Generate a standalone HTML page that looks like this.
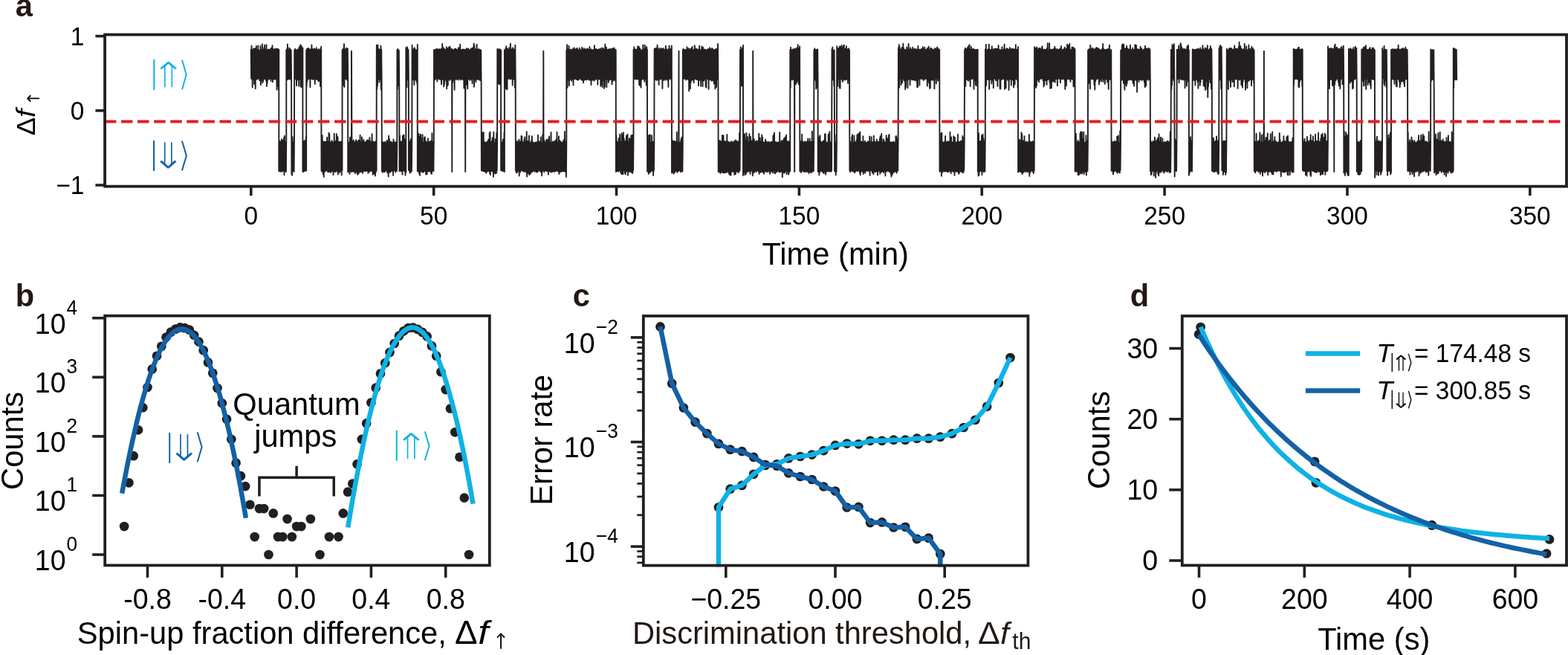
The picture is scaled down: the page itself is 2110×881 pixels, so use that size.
<!DOCTYPE html>
<html><head><meta charset="utf-8"><title>Figure</title>
<style>
html,body{margin:0;padding:0;background:#fff;}
body{width:2110px;height:881px;overflow:hidden;}
svg{display:block;font-family:'Liberation Sans', Arial, sans-serif;}
</style></head><body>
<svg width="2110" height="881" viewBox="0 0 2110 881">
<rect width="2110" height="881" fill="#fff"/>
<path d="M337.7,65.9 338.1,105.8 338.5,61.7 338.9,105.4 339.3,67.5 339.7,117.6 340.1,67.5 340.5,105.7 340.9,65.4 341.3,106.9 341.7,66.8 342.1,113.0 342.5,65.1 342.9,106.3 343.3,65.6 343.7,119.3 344.1,65.0 344.5,105.4 344.9,61.9 345.3,106.5 345.7,66.8 346.1,106.5 346.5,66.7 346.9,105.3 347.3,61.5 347.7,105.5 348.1,67.6 348.5,105.9 348.9,67.6 349.3,108.3 349.7,67.4 350.1,106.2 350.5,61.9 350.9,114.2 351.3,67.4 351.7,106.4 352.1,66.7 352.5,108.1 352.9,59.5 353.3,111.6 353.7,67.5 354.1,109.2 354.5,66.7 354.9,105.8 355.3,64.2 355.7,106.3 356.1,60.6 356.5,106.0 356.9,67.6 357.3,106.2 357.7,66.5 358.1,108.6 358.5,60.3 358.9,116.0 359.3,67.5 359.7,111.6 360.1,67.5 360.5,105.8 360.9,66.5 361.3,106.9 361.7,67.6 362.1,105.6 362.5,66.8 362.9,105.6 363.3,66.7 363.7,106.3 364.1,66.5 364.5,109.0 364.9,64.6 365.3,105.7 365.7,65.7 366.1,105.6 366.5,61.1 366.9,110.2 367.3,65.8 367.7,106.7 368.1,66.5 368.5,106.0 368.9,66.6 369.3,106.4 369.7,65.9 370.1,106.2 370.5,67.2 370.9,105.7 371.3,66.0 371.7,106.9 372.1,66.3 372.5,116.9 372.5,120.7 372.9,65.8 373.3,115.9 373.7,65.7 374.1,107.0 374.5,67.0 374.9,120.2 375.3,66.8 375.3,230.3 375.7,191.7 376.1,229.9 376.5,189.7 376.9,230.5 377.3,191.9 377.7,229.8 378.1,190.9 378.5,230.9 378.9,187.3 379.3,230.4 379.7,191.0 380.1,230.2 380.5,188.8 380.9,229.2 381.3,190.1 381.7,229.6 382.1,184.9 382.5,235.3 382.9,182.7 383.3,229.8 383.7,190.8 384.1,230.6 384.5,191.8 384.9,231.0 385.3,185.1 385.3,67.3 385.7,105.9 386.1,66.0 386.5,107.3 386.9,59.5 387.3,105.4 387.7,66.9 388.1,106.5 388.5,66.9 388.9,106.3 389.3,64.4 389.7,105.9 390.1,65.5 390.5,105.5 390.9,66.7 391.3,107.0 391.7,67.4 392.1,107.6 392.4,234.2 392.8,189.9 393.2,235.7 393.6,184.2 394.0,230.0 394.4,191.7 394.8,229.7 395.2,191.0 395.6,230.9 396.0,183.5 396.2,67.5 396.6,105.6 397.0,65.7 397.4,106.4 397.8,67.2 398.2,106.1 398.6,67.1 399.0,115.3 399.4,67.4 399.8,105.6 400.2,67.4 400.6,107.4 401.0,66.2 401.4,105.5 401.8,67.2 402.2,115.8 402.6,63.2 403.0,106.5 403.4,64.9 403.8,106.0 404.2,60.1 404.6,116.3 405.0,67.5 405.4,117.2 405.8,62.0 406.2,105.3 406.6,66.7 407.0,106.3 407.4,64.4 407.4,230.4 407.8,190.7 408.2,231.2 408.6,190.4 409.0,230.2 409.4,189.4 409.8,229.9 410.2,191.7 410.6,229.8 411.0,188.7 411.4,229.8 411.8,184.4 412.2,229.2 412.2,67.4 412.6,116.3 413.0,65.7 413.4,109.8 413.8,66.4 414.2,106.9 414.6,65.0 415.0,106.1 415.4,65.1 415.8,105.7 416.2,67.4 416.6,105.4 417.0,66.4 417.4,117.3 417.8,66.8 418.2,106.0 418.6,66.2 419.0,105.6 419.4,60.5 419.8,106.0 420.2,65.6 420.6,106.9 421.0,66.6 421.4,105.7 421.8,66.6 422.2,105.8 422.6,65.1 423.0,106.9 423.4,66.2 423.8,113.0 424.2,66.4 424.6,106.6 425.0,67.6 425.4,105.7 425.8,64.3 426.2,106.3 426.6,66.1 427.0,107.3 427.4,67.6 427.8,105.6 428.2,67.6 428.6,109.3 429.0,66.2 429.4,106.2 429.8,67.0 430.2,109.0 430.6,67.5 431.0,116.0 431.4,65.7 431.8,115.8 432.2,62.8 432.5,229.4 432.9,191.9 433.3,230.9 433.7,182.2 434.1,230.1 434.5,190.1 434.9,234.6 435.3,191.8 435.7,237.9 436.1,190.8 436.5,231.8 436.9,190.8 437.3,230.1 437.7,192.0 438.1,229.3 438.5,190.6 438.9,229.6 439.3,191.8 439.7,229.2 440.1,184.7 440.5,229.8 440.9,190.8 441.3,231.2 441.7,191.0 442.1,231.2 442.5,178.8 442.9,229.5 443.3,180.2 443.7,230.8 444.1,191.4 444.5,229.5 444.9,191.2 445.3,232.0 445.7,191.9 446.1,229.5 446.5,189.1 446.9,229.9 447.3,190.6 447.7,230.0 448.1,192.1 448.5,235.2 448.9,191.7 449.3,229.2 449.7,179.6 450.1,230.4 450.5,190.7 450.9,231.3 451.3,191.5 451.7,229.5 452.1,189.2 452.5,230.5 452.9,180.3 453.3,229.9 453.7,186.4 454.1,229.4 454.5,184.1 454.9,234.5 455.3,190.9 455.7,232.0 456.1,190.6 456.5,229.5 456.9,191.1 457.3,231.8 457.7,191.0 458.1,229.9 458.5,191.2 458.9,229.7 459.3,190.5 459.7,235.6 460.1,190.6 460.5,229.1 460.6,67.3 461.0,108.6 461.4,66.1 461.8,106.9 462.2,65.5 462.6,115.0 463.0,59.2 463.4,117.0 463.8,66.8 464.2,105.4 464.6,66.2 465.0,106.1 465.4,66.2 465.8,106.1 466.2,64.6 466.6,106.7 467.0,65.3 467.4,108.0 467.8,65.4 468.2,105.9 468.2,231.5 468.6,190.8 469.0,230.9 469.4,191.7 469.8,229.9 470.2,191.7 470.6,234.1 471.0,184.8 471.4,229.9 471.8,188.1 472.2,229.3 472.6,192.0 473.0,231.3 473.0,68.6 473.4,180.7 473.8,230.1 474.2,189.7 474.6,229.8 475.0,189.8 475.4,231.1 475.8,188.5 476.2,229.5 476.6,191.7 477.0,230.4 477.4,191.5 477.8,233.3 478.2,190.6 478.6,229.2 479.0,188.3 479.4,230.9 479.8,192.0 480.2,231.9 480.6,191.1 481.0,234.7 481.4,189.6 481.8,229.1 482.2,191.2 482.6,233.5 483.0,188.8 483.4,229.7 483.8,191.4 484.2,231.4 484.6,181.7 485.0,230.5 485.4,190.7 485.8,231.3 486.2,191.1 486.6,229.6 487.0,184.4 487.4,230.7 487.8,189.6 488.2,232.9 488.6,191.9 489.0,230.1 489.4,187.9 489.8,229.3 490.2,191.3 490.6,229.8 491.0,191.8 491.4,230.3 491.8,192.1 492.2,230.0 492.6,190.5 493.0,229.7 493.4,189.2 493.8,229.6 494.2,192.0 494.6,229.9 495.0,188.2 495.4,232.8 495.8,189.4 496.2,230.5 496.6,190.7 497.0,231.0 497.4,185.0 497.8,230.3 498.2,189.7 498.6,229.3 499.0,190.9 499.4,229.2 499.8,191.1 500.2,229.9 500.6,180.2 501.0,230.8 501.4,190.9 501.8,234.7 502.2,190.5 502.6,229.2 503.0,191.1 503.4,233.8 503.8,192.1 504.2,230.9 504.6,191.0 505.0,236.5 505.4,190.2 505.8,231.3 506.2,191.2 506.6,229.5 506.8,60.9 507.2,119.8 507.6,67.5 508.0,115.5 508.4,60.4 508.8,105.5 509.2,67.0 509.6,106.3 510.0,66.3 510.4,110.6 510.8,66.9 511.2,105.5 511.6,66.9 512.0,106.8 512.4,61.6 512.8,120.6 513.2,66.4 513.6,106.2 513.9,229.9 514.3,190.0 514.7,231.7 515.1,192.1 515.5,230.7 515.9,191.5 516.3,230.5 516.7,192.0 517.1,231.2 517.5,191.4 517.9,231.0 518.3,190.8 518.7,229.7 519.1,191.9 519.5,229.4 519.9,191.9 520.3,229.1 520.7,188.6 521.1,232.2 521.5,190.3 521.9,231.3 522.3,191.0 522.7,237.6 523.1,182.7 523.5,229.1 523.9,186.6 524.3,231.8 524.7,191.0 525.1,231.4 525.5,190.7 525.9,229.6 526.3,190.6 526.7,230.0 527.1,192.0 527.5,229.8 527.9,191.6 528.3,229.9 528.7,192.0 529.1,235.9 529.5,187.5 529.9,229.2 530.3,191.0 530.7,229.2 531.1,191.5 531.5,229.6 531.9,192.0 532.3,231.7 532.7,191.3 533.1,229.4 533.5,190.9 533.9,229.9 534.3,191.6 534.4,67.1 534.8,120.1 535.2,66.0 535.4,68.6 535.6,115.0 536.0,67.4 536.4,111.4 536.8,67.6 537.2,106.4 537.5,230.2 537.9,182.1 538.3,229.1 538.7,190.8 539.1,229.8 539.5,190.6 539.9,230.4 540.3,190.1 540.7,230.3 541.1,190.4 541.5,234.8 541.9,183.0 542.3,229.4 542.7,182.1 543.1,229.4 543.5,181.4 543.9,229.5 544.3,187.0 544.7,230.7 545.1,192.0 545.5,235.7 545.9,189.7 546.3,231.5 546.3,64.1 546.7,106.5 547.1,67.3 547.5,117.3 547.9,63.2 548.3,106.5 548.7,65.8 549.1,106.7 549.5,67.1 549.9,105.7 549.9,229.1 550.3,191.4 550.7,229.1 551.1,191.2 551.5,232.7 551.9,189.8 552.3,230.5 552.7,187.3 553.1,231.3 553.5,192.1 553.9,230.6 554.3,190.1 554.6,60.8 555.0,105.6 555.4,67.2 555.8,106.5 556.2,66.2 556.6,107.4 557.0,66.0 557.4,114.0 557.8,64.1 558.2,105.7 558.6,66.1 559.0,107.4 559.4,67.5 559.8,105.7 560.2,67.3 560.6,110.1 561.0,67.4 561.4,113.3 561.8,60.0 561.8,230.6 562.2,190.3 562.6,230.3 563.0,179.5 563.4,230.2 563.8,183.6 564.2,233.7 564.6,186.4 565.0,235.9 565.4,180.8 565.8,229.5 566.2,181.1 566.6,230.2 567.0,186.2 567.4,230.8 567.8,191.4 568.2,231.4 568.6,181.3 569.0,229.9 569.4,191.7 569.8,231.8 570.2,191.4 570.6,230.3 571.0,185.1 571.4,229.8 571.8,184.2 572.2,229.9 572.6,189.4 573.0,234.4 573.4,191.0 573.8,234.5 574.2,191.5 574.6,234.4 575.0,191.6 575.4,230.3 575.8,186.1 576.2,230.5 576.6,191.0 577.0,229.7 577.4,190.7 577.8,230.3 578.2,190.8 578.6,230.4 579.0,190.8 579.4,229.5 579.8,189.6 580.2,233.4 580.6,192.0 581.0,233.7 581.4,179.2 581.8,229.1 582.2,192.1 582.6,229.2 583.0,190.6 583.4,230.3 583.8,190.9 584.0,67.0 584.4,106.4 584.8,67.2 585.2,107.4 585.6,67.3 586.0,106.1 586.4,66.4 586.8,105.8 587.2,66.6 587.6,105.5 588.0,65.5 588.4,109.6 588.8,67.4 589.2,106.0 589.6,66.8 590.0,105.4 590.4,66.6 590.8,105.7 591.2,65.9 591.6,106.7 592.0,67.1 592.4,106.4 592.8,66.8 593.2,106.9 593.6,65.7 594.0,113.4 594.4,66.1 594.8,106.2 595.2,59.0 595.6,106.7 596.0,66.7 596.4,106.4 596.8,64.3 597.2,116.6 597.6,66.9 598.0,113.6 598.4,66.3 598.8,105.5 599.2,67.0 599.6,106.3 600.0,67.3 600.4,109.2 600.8,63.2 601.2,119.2 601.6,64.7 602.0,115.5 602.4,66.4 602.8,114.4 603.2,65.5 603.6,106.1 604.0,63.5 604.4,105.8 604.8,66.8 605.2,108.0 605.6,62.8 606.0,106.6 606.4,66.8 606.8,106.1 607.2,66.1 607.6,105.4 608.0,65.8 608.3,231.0 608.4,111.6 608.8,67.6 609.2,110.7 609.6,67.4 610.0,105.4 610.4,67.0 610.8,107.5 611.2,66.5 611.6,120.8 612.0,65.8 612.4,106.6 612.8,65.8 613.2,105.6 613.6,66.2 614.0,106.8 614.4,66.8 614.8,106.3 615.2,67.4 615.6,105.9 616.0,67.1 616.4,107.6 616.8,64.2 617.2,105.9 617.6,66.0 618.0,105.4 618.4,64.3 618.8,106.1 619.2,59.7 619.6,107.4 620.0,66.7 620.4,105.5 620.8,67.1 621.2,106.3 621.6,67.2 622.0,106.1 622.4,66.4 622.8,106.9 623.2,67.2 623.6,107.2 624.0,66.5 624.4,118.5 624.8,67.1 625.2,106.7 625.6,66.9 626.0,106.0 626.2,231.0 626.4,67.3 626.8,105.3 627.2,66.1 627.6,113.7 628.0,65.3 628.4,105.4 628.8,66.2 629.2,119.3 629.6,66.6 630.0,105.4 630.4,65.2 630.8,106.3 631.2,67.1 631.6,105.3 632.0,67.6 632.4,107.9 632.8,67.0 633.2,106.0 633.6,66.0 634.0,106.1 634.4,67.5 634.8,107.8 635.2,64.7 635.6,112.3 636.0,67.3 636.4,105.5 636.8,63.9 637.2,105.9 637.6,58.5 638.0,116.7 638.4,61.0 638.8,106.9 639.2,66.4 639.6,105.4 640.0,67.3 640.4,110.3 640.8,65.4 641.2,106.8 641.6,59.6 642.0,106.2 642.4,67.5 642.8,106.6 643.2,66.4 643.6,106.9 644.0,66.3 644.4,106.2 644.8,66.4 645.2,107.1 645.6,67.0 646.0,108.1 646.4,67.0 646.8,106.7 647.2,67.6 647.6,114.0 647.9,229.4 648.3,180.5 648.7,229.6 649.1,178.5 649.5,229.1 649.9,190.7 650.3,230.2 650.7,177.9 651.1,230.2 651.5,191.5 651.9,229.7 652.3,191.1 652.7,231.0 653.1,191.9 653.5,230.3 653.9,191.9 654.3,232.8 654.7,191.5 655.1,230.0 655.5,190.4 655.9,230.5 656.3,191.6 656.7,229.9 657.1,188.0 657.5,229.9 657.9,187.5 658.3,230.2 658.7,178.9 659.1,233.2 659.5,177.5 659.9,235.0 660.3,191.2 660.7,229.7 661.1,192.0 661.5,229.8 661.9,189.5 662.3,230.2 662.7,185.4 663.1,230.0 663.5,191.9 663.9,237.8 664.3,177.8 664.7,230.5 665.1,192.0 665.5,232.4 665.9,191.9 666.3,233.5 666.7,187.1 667.1,230.2 667.5,188.7 667.9,233.0 668.3,178.8 668.7,229.8 669.1,190.8 669.3,65.9 669.7,105.9 670.1,66.7 670.5,112.2 670.9,66.2 671.3,106.0 671.7,67.2 672.1,113.6 672.5,66.3 672.9,111.9 673.3,67.0 673.7,106.8 674.1,67.5 674.1,229.1 674.5,190.3 674.9,229.1 675.3,191.1 675.7,229.8 676.1,191.2 676.5,229.7 676.9,187.5 677.3,229.5 677.7,191.8 678.1,230.5 678.5,177.9 678.9,231.1 678.9,67.1 679.3,106.4 679.7,67.3 680.1,115.0 680.5,64.6 680.9,119.6 681.3,62.2 681.7,107.2 682.1,65.9 682.5,120.2 682.9,65.5 683.3,106.2 683.7,67.0 684.1,105.6 684.5,67.0 684.9,105.6 685.3,64.1 685.7,105.5 686.1,64.7 686.5,106.5 686.9,58.8 687.3,105.9 687.7,66.2 688.1,105.6 688.5,66.2 688.9,106.0 689.3,67.5 689.7,114.8 690.1,64.2 690.5,106.5 690.9,66.3 691.3,105.5 691.7,66.5 692.1,106.8 692.5,66.6 692.9,117.9 693.3,60.7 693.7,105.8 693.9,229.4 694.3,190.7 694.7,232.1 695.1,191.7 695.5,232.2 695.9,189.9 696.3,231.2 696.7,191.7 697.1,229.5 697.5,191.5 697.9,229.3 698.3,187.6 698.7,236.5 699.1,191.8 699.5,231.6 699.9,190.3 700.3,231.2 700.7,191.5 701.1,229.2 701.5,182.9 701.9,229.1 702.3,183.4 702.7,229.2 703.1,191.0 703.5,229.6 703.9,191.6 704.3,230.4 704.7,191.1 705.1,230.7 705.5,187.3 705.9,230.3 706.3,184.5 706.7,230.6 707.1,190.5 707.5,230.2 707.9,191.7 708.3,231.6 708.7,177.3 709.1,237.5 709.5,191.1 709.9,229.4 710.3,190.0 710.7,232.7 711.1,190.5 711.5,233.6 711.9,182.4 712.3,235.3 712.7,190.9 713.1,229.6 713.5,192.1 713.9,233.6 714.3,191.9 714.7,230.0 715.1,189.0 715.5,231.5 715.9,183.3 716.3,230.9 716.7,191.0 717.1,229.6 717.5,191.9 717.9,229.7 718.3,192.1 718.7,229.4 719.1,192.1 719.5,230.9 719.9,192.0 720.3,229.6 720.7,192.2 721.1,229.8 721.5,190.9 721.9,231.5 722.3,192.0 722.7,230.3 723.1,192.0 723.5,231.2 723.9,181.8 724.3,229.3 724.7,191.0 725.1,229.2 725.5,190.5 725.9,229.5 726.3,191.3 726.7,229.4 727.1,190.1 727.5,231.2 727.9,184.4 728.3,230.4 728.7,192.1 729.1,236.2 729.5,192.1 729.9,230.4 730.3,181.1 730.7,229.1 731.1,182.8 731.3,68.6 731.5,229.4 731.9,187.8 732.3,231.6 732.7,189.7 733.1,229.8 733.5,191.9 733.9,229.3 734.3,191.5 734.7,229.6 735.1,188.8 735.5,229.9 735.9,187.6 736.3,229.3 736.7,188.8 737.1,230.8 737.5,191.9 737.9,234.8 738.3,186.2 738.7,229.3 739.1,183.4 739.5,230.1 739.9,191.7 740.3,230.9 740.7,191.7 741.1,230.3 741.5,178.0 741.9,231.5 742.3,191.9 742.7,229.1 743.1,191.9 743.5,231.1 743.9,190.5 744.3,229.2 744.7,191.8 745.1,230.1 745.5,191.0 745.9,230.9 746.3,189.9 746.7,230.6 747.1,191.8 747.5,229.4 747.9,188.9 748.3,229.9 748.7,187.1 749.1,229.2 749.5,177.8 749.9,229.2 750.3,191.6 750.7,230.6 751.1,191.6 751.5,229.1 751.9,183.4 752.3,234.1 752.7,191.0 753.1,231.4 753.5,189.3 753.9,231.2 754.3,190.9 754.7,229.4 755.1,191.2 755.5,230.7 755.9,191.4 756.3,230.2 756.7,192.1 757.1,229.6 757.5,191.4 757.9,230.3 758.3,188.5 758.7,229.7 759.1,190.1 759.5,230.2 759.9,176.9 760.3,230.7 760.7,191.9 761.1,231.4 761.5,190.2 761.9,237.9 762.3,191.4 762.3,67.3 762.7,106.1 763.1,60.3 763.5,117.9 763.9,67.4 764.3,107.8 764.7,65.8 765.1,106.0 765.5,61.7 765.9,115.2 766.3,67.3 766.7,107.4 767.1,67.5 767.5,106.2 767.9,66.5 768.3,105.8 768.7,66.8 769.1,108.7 769.5,67.4 769.9,106.6 770.3,67.3 770.7,105.3 771.1,65.4 771.5,114.5 771.9,66.3 772.3,106.6 772.7,64.3 773.1,105.9 773.5,66.8 773.9,105.9 774.3,66.6 774.7,106.3 775.1,65.7 775.5,106.0 775.9,67.6 776.3,107.1 776.7,64.8 777.1,107.5 777.5,67.3 777.9,107.5 778.3,67.4 778.7,107.3 779.1,67.0 779.5,105.6 779.9,64.7 780.3,105.6 780.7,67.0 781.1,105.6 781.5,67.6 781.9,106.7 782.3,67.3 782.7,107.8 783.1,64.0 783.5,105.4 783.9,64.9 784.3,107.5 784.7,66.6 785.1,111.3 785.5,67.1 785.9,108.1 786.3,65.3 786.7,107.1 787.1,67.2 787.5,106.8 787.9,66.5 788.3,105.7 788.7,66.8 789.1,107.6 789.5,66.5 789.9,106.4 790.3,65.2 790.7,105.7 791.1,67.6 791.5,106.5 791.9,66.5 792.3,107.0 792.7,67.3 793.1,107.7 793.5,62.9 793.9,107.2 794.3,67.5 794.7,107.2 795.1,66.7 795.5,114.2 795.9,66.5 796.3,107.7 796.7,67.1 797.1,107.6 797.5,67.6 797.9,107.5 798.3,66.9 798.7,105.4 799.1,67.1 799.5,108.7 799.9,61.3 800.3,105.6 800.7,67.0 801.1,106.3 801.5,66.5 801.9,106.8 802.3,65.8 802.7,105.4 803.1,67.6 803.5,105.9 803.9,66.7 804.3,113.8 804.7,67.3 805.1,105.4 805.5,66.9 805.9,106.3 806.3,66.1 806.7,106.2 807.1,67.6 807.5,106.4 807.9,65.1 808.3,116.1 808.7,67.2 809.1,114.0 809.5,67.0 809.9,106.7 810.3,64.4 810.7,117.2 811.1,65.5 811.5,108.2 811.9,65.2 812.3,106.4 812.7,67.0 813.1,119.0 813.5,66.9 813.9,116.5 814.3,59.5 814.7,105.9 815.1,64.0 815.5,105.6 815.9,63.8 816.3,117.2 816.7,67.1 817.1,106.3 817.5,66.9 817.9,106.7 818.3,66.8 818.7,111.1 819.1,66.4 819.5,108.4 819.9,66.7 820.3,106.6 820.7,65.9 821.1,106.8 821.5,67.1 821.9,106.9 822.3,66.1 822.7,105.4 823.1,66.9 823.5,113.5 823.9,65.2 824.3,109.7 824.7,65.8 825.1,107.3 825.5,67.6 825.9,106.9 826.3,64.5 826.7,108.3 827.1,66.7 827.5,105.8 827.9,66.4 828.3,105.4 828.7,67.1 828.9,231.0 829.3,182.1 829.7,230.3 830.1,190.0 830.5,230.0 830.9,191.5 831.3,230.4 831.7,191.9 832.1,230.6 832.5,186.2 832.9,230.0 833.3,192.1 833.7,229.6 834.1,181.0 834.5,229.5 834.9,191.3 835.3,232.3 835.7,190.1 836.1,233.6 836.5,179.1 836.9,234.2 837.3,181.2 837.7,231.2 838.1,191.7 838.5,234.0 838.9,178.2 839.3,229.3 839.7,186.2 840.1,229.4 840.5,191.0 840.9,232.8 841.3,190.5 841.7,234.5 842.1,189.0 842.5,230.2 842.9,182.4 843.3,230.0 843.7,191.5 844.1,230.6 844.5,180.7 844.9,235.7 845.3,191.3 845.7,229.2 846.1,190.5 846.5,230.6 846.9,186.2 847.3,231.1 847.7,189.1 848.1,230.0 848.5,186.8 848.9,230.9 849.3,182.4 849.7,231.7 850.1,182.2 850.5,229.4 850.9,181.8 851.3,233.1 851.7,189.3 852.1,229.2 852.5,182.7 852.5,66.8 852.9,106.8 853.3,63.3 853.7,105.9 854.1,65.4 854.5,106.1 854.9,67.2 855.3,105.4 855.7,67.0 856.1,106.2 856.5,66.6 856.9,106.8 857.3,66.5 857.7,106.4 858.1,62.5 858.5,106.0 858.9,62.6 859.3,105.5 859.7,62.7 860.1,114.0 860.5,64.4 860.9,114.8 861.3,65.1 861.7,111.0 862.1,67.6 862.5,117.8 862.9,67.5 863.3,107.5 863.7,67.4 864.1,106.4 864.5,67.1 864.9,105.4 865.3,60.4 865.7,106.2 866.1,66.2 866.5,106.1 866.9,67.2 867.3,109.7 867.7,60.6 868.1,106.3 868.5,65.7 868.9,105.8 869.3,64.8 869.7,114.3 870.1,62.9 870.5,115.8 870.9,66.5 871.1,230.4 871.5,191.0 871.9,230.7 872.3,188.8 872.7,234.0 873.1,182.0 873.5,232.5 873.9,192.1 874.3,230.8 874.7,181.1 875.1,231.6 875.5,192.1 875.9,230.5 876.3,192.0 876.7,229.5 877.1,182.2 877.5,229.5 877.9,191.5 878.3,229.2 878.7,190.7 879.1,236.1 879.5,191.6 879.9,229.6 880.3,191.6 880.6,65.7 881.0,106.1 881.4,67.3 881.8,105.6 882.2,64.9 882.6,107.2 883.0,64.7 883.4,107.9 883.8,66.4 884.2,106.3 884.6,60.6 885.0,107.3 885.4,66.7 885.8,106.1 886.2,67.5 886.6,114.0 887.0,65.0 887.4,106.2 887.8,67.3 888.2,106.1 888.6,66.9 889.0,106.6 889.4,64.9 889.8,105.5 890.2,65.6 890.6,105.4 891.0,65.9 891.4,119.0 891.8,66.1 892.2,106.4 892.6,65.0 893.0,107.9 893.4,66.6 893.8,106.3 894.2,66.9 894.6,106.4 895.0,66.4 895.4,107.7 895.8,61.8 896.2,106.5 896.6,65.3 897.0,106.6 897.4,67.2 897.8,105.7 898.2,67.2 898.6,108.2 899.0,67.3 899.4,117.1 899.8,65.7 900.2,105.7 900.6,61.6 901.0,106.0 901.4,66.1 901.8,105.5 902.2,66.2 902.6,105.6 903.0,65.6 903.4,107.8 903.8,61.5 904.0,232.4 904.4,191.5 904.8,229.5 905.2,189.4 905.6,231.2 906.0,189.8 906.4,233.7 906.8,190.7 907.2,229.9 907.6,189.9 908.0,232.0 908.4,191.4 908.8,229.3 909.2,190.7 909.6,229.6 910.0,192.0 910.4,230.3 910.8,177.8 911.2,231.7 911.6,192.0 912.0,230.9 912.4,191.2 912.8,229.2 913.2,187.9 913.5,68.6 913.6,229.7 914.0,192.1 914.4,229.1 914.8,191.6 915.2,229.6 915.6,191.2 916.0,231.2 916.4,187.6 916.8,229.7 917.2,184.9 917.6,229.9 918.0,190.9 918.4,230.9 918.8,190.7 918.8,67.2 919.2,106.2 919.6,65.6 920.0,105.6 920.4,67.3 920.8,105.9 921.2,67.5 921.6,105.5 922.0,67.3 922.4,105.6 922.8,66.9 923.2,107.6 923.6,67.0 924.0,105.6 924.4,63.3 924.8,106.3 925.2,65.4 925.6,106.6 926.0,67.2 926.4,105.5 926.8,65.1 927.2,122.4 927.6,66.8 928.0,105.6 928.4,67.0 928.8,119.2 929.2,65.8 929.6,110.9 930.0,67.6 930.4,107.1 930.8,64.5 931.2,107.8 931.6,62.9 932.0,106.7 932.4,67.2 932.8,107.4 933.2,67.4 933.6,111.3 934.0,66.9 934.4,105.6 934.8,61.1 935.2,106.3 935.6,64.9 936.0,105.7 936.4,65.9 936.8,105.3 937.2,66.0 937.6,107.1 938.0,66.2 938.4,107.1 938.8,67.3 939.2,105.6 939.6,67.3 940.0,115.3 940.4,65.9 940.8,106.1 941.2,61.8 941.6,107.6 942.0,67.5 942.4,106.3 942.8,67.6 943.2,115.9 943.6,66.5 944.0,108.4 944.4,62.5 944.8,105.7 945.2,67.1 945.6,116.3 946.0,63.6 946.4,106.7 946.8,66.8 947.2,108.3 947.6,66.4 948.0,105.5 948.4,66.6 948.8,106.3 949.2,66.8 949.6,116.6 950.0,67.6 950.4,117.7 950.8,67.4 951.2,105.4 951.6,67.0 952.0,105.6 952.4,66.1 952.8,106.4 953.2,67.6 953.6,119.9 954.0,65.8 954.4,105.8 954.8,64.1 955.2,106.8 955.6,65.3 956.0,107.3 956.4,66.6 956.8,105.8 957.2,67.5 957.6,108.7 958.0,65.0 958.4,106.4 958.8,65.8 959.2,108.1 959.6,66.4 960.0,106.2 960.4,67.4 960.8,112.4 961.2,67.4 961.6,105.5 962.0,66.7 962.4,119.5 962.8,66.5 963.2,105.5 963.6,65.7 964.0,117.2 964.4,66.7 964.8,106.3 965.2,66.0 965.6,106.9 966.0,59.0 966.4,107.1 966.7,231.2 967.1,189.5 967.5,229.1 967.9,189.9 968.3,230.6 968.7,189.3 969.1,232.7 969.5,189.6 969.9,232.6 970.3,192.0 970.7,229.7 971.1,190.8 971.5,230.4 971.9,182.0 972.3,232.3 972.7,191.0 973.1,229.2 973.5,182.3 973.9,232.3 974.3,191.6 974.7,231.6 975.1,189.9 975.5,232.4 975.9,192.2 976.3,231.7 976.7,191.2 977.1,230.6 977.5,189.7 977.9,231.8 978.3,180.9 978.7,229.2 979.1,191.9 979.5,230.2 979.9,190.6 980.3,231.7 980.7,191.2 981.1,234.1 981.5,191.6 981.9,234.7 982.3,192.1 982.7,235.4 983.1,191.5 983.5,235.8 983.9,190.5 984.3,229.5 984.7,190.5 985.1,230.6 985.5,191.9 985.9,230.9 986.3,192.0 986.7,230.2 987.1,190.5 987.5,230.4 987.9,192.1 988.3,235.0 988.7,190.3 989.1,229.6 989.5,188.5 989.9,234.0 990.3,191.0 990.7,229.7 991.1,189.5 991.5,230.6 991.9,191.9 992.3,229.4 992.7,191.2 993.1,231.5 993.5,190.1 993.9,232.1 994.3,191.7 994.7,229.2 995.1,178.6 995.5,229.5 995.9,184.1 996.0,67.0 996.4,105.7 996.8,63.5 997.2,105.7 997.6,66.6 998.0,115.7 998.4,66.1 998.8,106.1 999.2,64.3 999.6,114.3 1000.0,60.9 1000.0,236.1 1000.4,192.0 1000.8,230.1 1001.2,180.6 1001.6,231.7 1002.0,180.3 1002.4,235.2 1002.8,188.0 1003.2,230.7 1003.6,191.1 1004.0,233.8 1004.4,178.9 1004.8,230.1 1005.2,189.9 1005.6,230.4 1006.0,184.1 1006.4,231.3 1006.8,191.4 1007.2,229.4 1007.6,190.7 1008.0,229.2 1008.4,180.1 1008.8,231.0 1009.2,191.4 1009.6,233.9 1010.0,184.0 1010.4,230.0 1010.8,190.1 1011.2,229.5 1011.6,192.0 1012.0,229.7 1012.4,188.8 1012.8,236.3 1013.2,191.5 1013.2,68.6 1013.6,232.9 1014.0,190.9 1014.4,230.8 1014.8,187.2 1015.2,231.5 1015.6,191.1 1016.0,229.1 1016.4,191.8 1016.8,229.9 1017.2,189.9 1017.6,231.2 1018.0,189.5 1018.4,229.1 1018.8,190.3 1019.2,229.4 1019.6,190.3 1020.0,229.2 1020.4,189.4 1020.8,231.0 1021.2,179.7 1021.6,234.0 1022.0,188.8 1022.4,229.2 1022.8,185.4 1023.2,231.5 1023.6,191.1 1024.0,231.7 1024.4,190.2 1024.8,229.7 1025.2,181.4 1025.6,230.5 1026.0,184.4 1026.4,231.5 1026.8,191.1 1027.2,230.5 1027.6,191.1 1028.0,233.7 1028.4,191.9 1028.8,230.2 1029.2,191.8 1029.6,229.9 1030.0,187.6 1030.4,230.7 1030.8,191.3 1031.2,230.0 1031.6,190.4 1032.0,231.0 1032.4,191.9 1032.8,229.4 1033.2,191.3 1033.6,231.0 1034.0,191.9 1034.4,229.4 1034.8,190.9 1035.2,229.2 1035.6,191.3 1036.0,233.7 1036.4,192.1 1036.8,229.3 1037.2,192.1 1037.6,230.9 1038.0,190.6 1038.4,230.6 1038.8,191.0 1039.2,229.6 1039.6,192.0 1040.0,232.4 1040.4,182.7 1040.8,229.6 1041.2,181.1 1041.6,229.9 1042.0,178.4 1042.4,232.9 1042.8,192.0 1043.2,233.2 1043.6,191.0 1044.0,229.5 1044.4,191.7 1044.8,231.4 1045.2,191.4 1045.6,230.9 1046.0,191.7 1046.4,229.4 1046.8,191.9 1047.2,229.3 1047.6,191.4 1048.0,230.7 1048.4,191.3 1048.8,231.5 1049.2,178.0 1049.6,230.3 1050.0,191.8 1050.4,231.0 1050.8,191.4 1051.2,229.3 1051.6,189.4 1052.0,230.6 1052.4,191.4 1052.8,238.2 1053.2,189.3 1053.6,231.6 1054.0,191.2 1054.4,230.3 1054.8,186.5 1055.2,232.7 1055.6,192.0 1056.0,231.7 1056.4,184.4 1056.8,229.7 1057.2,192.1 1057.6,229.6 1058.0,181.8 1058.4,234.0 1058.8,191.6 1059.2,229.4 1059.6,190.1 1060.0,230.3 1060.4,192.2 1060.8,234.8 1061.2,190.2 1061.6,233.2 1062.0,191.3 1062.4,229.8 1062.8,191.9 1063.2,230.2 1063.3,66.6 1063.7,117.9 1064.1,63.8 1064.5,106.2 1064.9,67.6 1065.3,106.7 1065.7,67.1 1066.1,107.6 1066.5,66.9 1066.9,106.8 1067.3,66.2 1067.7,106.0 1068.1,66.1 1068.5,105.3 1068.9,67.5 1069.2,231.0 1069.3,113.2 1069.7,65.8 1070.1,106.5 1070.5,66.8 1070.9,113.4 1071.3,65.9 1071.7,106.3 1072.1,64.4 1072.5,110.7 1072.9,64.8 1073.3,108.3 1073.7,60.2 1074.1,105.5 1074.5,64.9 1074.9,113.6 1075.3,65.3 1075.7,109.0 1076.1,62.4 1076.4,230.3 1076.8,191.3 1077.2,229.9 1077.6,191.0 1078.0,232.1 1078.4,189.4 1078.8,229.7 1079.2,180.8 1079.6,229.1 1080.0,190.3 1080.4,230.0 1080.8,191.7 1081.2,230.0 1081.6,191.4 1082.0,230.9 1082.4,191.3 1082.8,229.9 1083.2,190.1 1083.6,231.0 1084.0,191.5 1084.4,230.6 1084.8,191.3 1085.2,230.2 1085.6,192.1 1086.0,231.0 1086.4,189.9 1086.8,229.1 1087.2,186.7 1087.6,231.0 1088.0,191.4 1088.4,233.1 1088.8,190.7 1089.2,229.5 1089.6,186.4 1090.0,230.8 1090.4,191.5 1090.8,231.9 1091.2,190.6 1091.6,229.7 1092.0,191.6 1092.4,231.9 1092.8,176.8 1093.2,230.0 1093.6,192.0 1094.0,230.1 1094.4,190.8 1094.8,230.3 1095.2,187.2 1095.4,67.4 1095.8,105.5 1096.2,65.2 1096.6,107.1 1097.0,67.0 1097.4,108.2 1097.8,67.5 1098.2,119.4 1098.6,66.9 1099.0,106.5 1099.4,67.1 1099.8,117.4 1100.2,66.3 1100.6,107.1 1100.7,230.7 1101.1,190.7 1101.5,230.4 1101.9,185.5 1102.3,235.5 1102.7,183.7 1103.1,231.7 1103.5,182.1 1103.9,229.2 1104.3,190.3 1104.7,230.1 1105.1,191.8 1105.5,229.7 1105.9,191.3 1106.3,229.6 1106.7,192.0 1107.1,231.2 1107.5,190.0 1107.9,232.3 1108.3,189.3 1108.7,233.0 1109.1,191.8 1109.5,229.7 1109.9,180.5 1110.3,230.8 1110.7,180.3 1111.1,234.7 1111.5,190.5 1111.9,229.4 1112.3,191.7 1112.7,230.8 1113.1,192.2 1113.5,229.9 1113.9,192.1 1114.3,229.2 1114.7,180.8 1115.1,230.2 1115.5,192.0 1115.9,230.8 1116.3,177.3 1116.7,230.3 1117.1,191.0 1117.5,229.3 1117.9,191.6 1118.3,230.8 1118.7,191.1 1119.1,229.5 1119.5,66.1 1119.9,106.3 1120.3,63.4 1120.7,107.2 1121.1,67.6 1121.5,106.7 1121.9,67.4 1122.3,115.3 1122.7,67.4 1123.1,230.1 1123.5,181.1 1123.9,230.8 1124.3,191.4 1124.7,235.6 1125.1,191.7 1125.5,230.9 1125.9,191.7 1126.2,62.1 1126.6,108.4 1127.0,65.1 1127.4,115.9 1127.8,67.1 1128.2,106.2 1128.6,64.5 1129.0,106.2 1129.4,67.6 1129.8,118.3 1130.2,62.1 1130.6,118.7 1131.0,63.0 1131.4,106.7 1131.8,67.3 1132.2,105.6 1132.6,60.9 1133.0,106.1 1133.4,67.3 1133.8,109.9 1134.2,64.2 1134.6,108.5 1135.0,61.4 1135.4,106.4 1135.8,60.7 1136.2,106.3 1136.6,66.5 1137.0,107.4 1137.4,66.2 1137.8,105.7 1138.2,64.8 1138.6,107.1 1139.0,62.1 1139.4,106.2 1139.8,65.9 1140.2,105.8 1140.6,66.6 1141.0,112.1 1141.4,66.2 1141.8,107.0 1142.2,65.3 1142.6,106.2 1143.0,67.5 1143.4,229.6 1143.8,189.7 1144.2,231.6 1144.6,191.9 1145.0,229.2 1145.4,191.7 1145.8,229.2 1146.2,184.3 1146.6,230.0 1147.0,181.3 1147.4,230.1 1147.8,192.2 1148.2,230.0 1148.6,191.7 1149.0,230.7 1149.4,182.5 1149.8,232.4 1150.2,190.5 1150.6,230.2 1151.0,191.6 1151.4,230.7 1151.8,191.5 1152.2,229.3 1152.6,188.3 1153.0,229.3 1153.4,181.2 1153.8,230.1 1154.2,189.1 1154.6,229.5 1155.0,180.3 1155.4,229.3 1155.8,179.5 1156.2,229.9 1156.6,191.8 1157.0,232.9 1157.4,177.4 1157.8,235.4 1158.2,191.7 1158.6,229.5 1159.0,190.6 1159.4,230.1 1159.8,190.8 1160.2,230.7 1160.6,192.0 1161.0,229.6 1161.4,183.2 1161.8,234.0 1162.2,191.5 1162.6,229.4 1163.0,191.8 1163.4,230.9 1163.8,189.6 1164.2,232.7 1164.6,191.8 1165.0,229.5 1165.4,191.7 1165.8,229.4 1166.2,191.8 1166.6,229.9 1167.0,191.6 1167.4,229.8 1167.8,190.1 1168.2,229.4 1168.6,191.6 1169.0,229.8 1169.4,190.7 1169.8,230.4 1170.2,183.4 1170.6,235.9 1171.0,191.4 1171.4,229.3 1171.8,190.8 1172.2,229.1 1172.6,184.1 1173.0,229.5 1173.4,191.8 1173.8,232.2 1174.2,191.8 1174.6,230.3 1175.0,190.8 1175.4,234.4 1175.8,182.8 1176.2,230.5 1176.6,189.7 1177.0,230.8 1177.4,192.1 1177.8,231.2 1178.2,191.2 1178.6,230.6 1179.0,191.9 1179.4,229.9 1179.8,187.6 1180.2,231.0 1180.6,190.5 1181.0,235.5 1181.4,191.6 1181.8,229.2 1182.2,190.9 1182.6,230.1 1183.0,191.1 1183.4,230.1 1183.8,186.3 1184.2,233.7 1184.6,183.3 1185.0,232.0 1185.4,191.9 1185.8,230.9 1186.2,179.9 1186.6,231.0 1187.0,191.9 1187.4,230.2 1187.8,191.6 1188.2,229.2 1188.6,187.2 1189.0,232.2 1189.4,188.5 1189.8,229.6 1190.2,191.9 1190.6,229.7 1191.0,191.1 1191.4,236.6 1191.8,191.8 1192.2,231.3 1192.6,182.2 1193.0,229.2 1193.4,191.6 1193.8,229.8 1194.2,186.3 1194.6,229.9 1195.0,186.6 1195.4,229.7 1195.8,182.2 1196.2,229.8 1196.6,180.9 1197.0,231.4 1197.4,191.1 1197.8,230.6 1198.2,191.5 1198.6,233.6 1199.0,191.8 1199.4,237.5 1199.8,191.4 1200.2,235.5 1200.6,192.0 1201.0,233.9 1201.4,191.2 1201.8,229.7 1202.2,190.4 1202.6,231.7 1203.0,191.6 1203.4,231.3 1203.8,191.7 1204.2,230.4 1204.6,191.6 1205.0,230.5 1205.4,183.1 1205.8,230.3 1206.2,183.1 1206.6,232.7 1207.0,192.1 1207.4,229.9 1207.8,186.2 1208.2,229.5 1208.6,190.8 1209.0,64.2 1209.4,112.0 1209.8,60.1 1210.2,117.7 1210.6,62.8 1211.0,105.5 1211.4,66.6 1211.8,105.4 1212.2,66.3 1212.6,114.3 1213.0,66.9 1213.4,108.6 1213.8,63.8 1214.2,111.3 1214.6,67.5 1215.0,106.0 1215.4,58.8 1215.8,106.0 1216.2,65.3 1216.6,108.4 1217.0,67.1 1217.4,105.8 1217.8,66.9 1218.2,120.3 1218.6,67.2 1219.0,117.0 1219.4,67.6 1219.8,106.5 1220.2,63.5 1220.6,107.5 1221.0,66.8 1221.4,118.4 1221.8,65.3 1222.2,106.5 1222.6,59.0 1223.0,106.6 1223.4,67.3 1223.8,106.6 1224.2,67.1 1224.6,114.6 1225.0,64.3 1225.4,105.4 1225.8,67.4 1226.2,105.6 1226.6,66.4 1227.0,107.2 1227.4,66.4 1227.8,107.2 1228.2,63.6 1228.6,105.7 1229.0,66.0 1229.4,107.6 1229.8,66.2 1230.2,105.4 1230.6,67.0 1231.0,107.7 1231.4,65.8 1231.8,106.8 1232.2,66.8 1232.6,108.4 1233.0,66.5 1233.4,106.6 1233.8,66.6 1234.2,117.2 1234.6,67.4 1235.0,117.1 1235.4,62.0 1235.8,105.6 1236.2,66.4 1236.6,105.8 1237.0,67.2 1237.4,114.8 1237.8,66.6 1238.2,105.4 1238.6,66.7 1239.0,105.8 1239.4,67.3 1239.8,105.6 1240.2,65.8 1240.6,105.5 1241.0,66.3 1241.4,106.6 1241.8,63.1 1242.2,105.6 1242.6,65.7 1243.0,108.1 1243.4,67.6 1243.8,106.7 1244.2,63.7 1244.6,105.7 1245.0,66.5 1245.4,105.5 1245.8,67.4 1246.2,106.1 1246.6,66.8 1247.0,105.8 1247.4,66.1 1247.8,115.7 1248.2,64.8 1248.6,109.6 1249.0,67.5 1249.4,105.4 1249.8,62.6 1250.2,111.8 1250.6,67.5 1251.0,118.8 1251.4,67.1 1251.8,118.5 1252.2,65.3 1252.6,107.5 1253.0,64.7 1253.4,106.3 1253.8,65.6 1254.2,107.7 1254.6,67.2 1255.0,106.9 1255.4,66.8 1255.8,106.8 1256.2,67.4 1256.6,108.6 1257.0,67.3 1257.4,119.4 1257.8,64.9 1258.2,105.4 1258.6,67.5 1259.0,105.7 1259.4,65.6 1259.8,112.4 1260.2,67.3 1260.6,105.6 1261.0,63.4 1261.4,105.5 1261.8,65.1 1262.2,108.8 1262.6,65.5 1263.0,105.7 1263.4,66.8 1263.8,105.7 1264.2,66.9 1264.5,230.7 1264.9,189.6 1265.3,229.7 1265.7,191.9 1266.1,230.4 1266.5,179.3 1266.9,236.7 1267.3,178.8 1267.7,230.2 1268.1,191.8 1268.5,231.5 1268.9,191.1 1269.3,229.9 1269.7,192.0 1270.1,229.4 1270.5,192.1 1270.9,230.6 1271.3,189.9 1271.7,230.6 1272.1,182.9 1272.5,230.4 1272.9,191.5 1273.3,230.4 1273.7,191.2 1274.1,229.3 1274.5,191.5 1274.9,231.3 1275.3,190.3 1275.7,230.6 1276.1,190.5 1276.5,231.1 1276.9,192.2 1277.3,229.9 1277.7,190.6 1278.1,229.2 1278.5,177.7 1278.9,230.6 1279.3,192.1 1279.7,233.3 1280.1,184.4 1280.5,230.6 1280.9,191.7 1281.3,229.5 1281.7,191.4 1282.1,230.4 1282.5,191.3 1282.9,229.4 1283.3,183.1 1283.7,231.4 1284.1,191.6 1284.5,235.7 1284.9,184.8 1285.3,230.0 1285.7,191.6 1286.1,229.4 1286.5,192.1 1286.9,230.9 1287.3,191.3 1287.7,230.3 1288.1,191.7 1288.5,229.4 1288.9,180.8 1289.3,231.4 1289.7,190.7 1290.1,233.9 1290.5,192.1 1290.9,232.8 1291.3,190.9 1291.7,230.3 1292.1,191.4 1292.5,230.4 1292.9,189.5 1293.3,229.1 1293.7,190.7 1294.1,231.2 1294.5,189.9 1294.9,230.7 1295.3,182.9 1295.7,232.2 1296.1,185.2 1296.5,231.6 1296.9,191.1 1297.3,229.2 1297.7,190.8 1298.1,67.0 1298.5,107.6 1298.9,64.8 1299.3,115.8 1299.7,67.1 1300.1,106.0 1300.5,66.0 1300.9,105.7 1301.3,67.2 1301.7,107.5 1302.1,63.5 1302.5,105.8 1302.9,67.3 1303.3,108.8 1303.7,61.5 1304.1,106.0 1304.5,60.3 1304.9,106.3 1305.3,66.7 1305.7,116.1 1306.1,66.1 1306.5,106.0 1306.9,62.7 1307.3,106.3 1307.7,67.4 1308.1,105.6 1308.5,66.3 1308.9,105.5 1309.3,66.8 1309.7,105.5 1310.1,65.6 1310.5,119.7 1310.9,66.8 1311.3,106.1 1311.7,67.0 1312.1,108.0 1312.5,67.1 1312.9,114.1 1313.3,67.3 1313.7,115.3 1314.1,67.0 1314.5,106.5 1314.9,67.3 1315.3,105.7 1315.7,66.8 1315.8,230.5 1316.2,190.3 1316.6,236.6 1317.0,179.3 1317.4,235.5 1317.8,191.6 1318.2,230.6 1318.6,190.0 1319.0,230.0 1319.4,191.9 1319.8,230.0 1320.2,189.8 1320.6,229.1 1321.0,182.3 1321.4,235.3 1321.8,191.0 1322.2,229.8 1322.6,180.8 1323.0,229.1 1323.4,186.1 1323.8,231.4 1324.2,189.8 1324.6,229.6 1325.0,190.7 1325.4,230.6 1325.8,183.5 1326.0,66.3 1326.4,105.4 1326.8,60.0 1327.2,114.7 1327.6,67.3 1328.0,106.9 1328.4,67.1 1328.8,106.9 1329.2,66.6 1329.6,107.1 1330.0,66.0 1330.4,106.5 1330.8,59.8 1331.2,119.8 1331.6,66.8 1332.0,105.8 1332.4,66.7 1332.8,106.8 1333.2,67.2 1333.6,106.6 1334.0,67.4 1334.4,112.4 1334.8,62.3 1335.2,107.8 1335.6,65.9 1336.0,106.4 1336.4,67.3 1336.8,118.2 1337.2,67.4 1337.6,105.5 1338.0,65.6 1338.4,105.6 1338.8,65.9 1339.2,105.4 1339.6,65.8 1340.0,108.1 1340.4,67.3 1340.8,108.4 1341.2,65.6 1341.6,105.6 1342.0,65.8 1342.4,115.9 1342.8,66.3 1343.2,105.6 1343.6,61.0 1344.0,105.9 1344.4,67.3 1344.8,105.9 1345.2,66.9 1345.6,119.3 1346.0,67.3 1346.4,119.6 1346.8,67.5 1347.2,105.3 1347.6,67.5 1348.0,106.7 1348.4,63.2 1348.8,105.4 1349.2,66.9 1349.6,106.0 1350.0,67.2 1350.4,105.6 1350.8,66.3 1351.2,106.1 1351.6,59.6 1352.0,119.8 1352.4,66.0 1352.8,105.6 1353.2,67.0 1353.6,118.4 1354.0,67.5 1354.4,105.4 1354.8,65.3 1355.2,106.0 1355.6,65.7 1356.0,107.7 1356.4,66.3 1356.8,106.8 1357.2,67.5 1357.6,121.1 1358.0,66.6 1358.4,105.4 1358.8,63.9 1359.2,106.3 1359.6,65.6 1360.0,105.5 1360.4,66.4 1360.8,114.8 1361.2,66.0 1361.6,107.8 1362.0,66.9 1362.4,105.7 1362.8,65.6 1363.2,107.6 1363.6,66.1 1364.0,117.5 1364.4,67.3 1364.8,107.2 1365.2,66.4 1365.6,113.6 1366.0,66.0 1366.4,106.1 1366.8,60.1 1367.2,106.1 1367.6,66.6 1368.0,105.5 1368.4,66.8 1368.8,107.5 1369.2,67.6 1369.6,118.1 1370.0,63.1 1370.1,231.6 1370.5,188.1 1370.9,230.8 1371.3,191.9 1371.7,230.3 1372.1,187.8 1372.5,230.5 1372.9,189.2 1373.3,229.7 1373.7,191.0 1374.1,231.7 1374.5,178.1 1374.9,230.2 1375.3,180.4 1375.7,234.2 1376.1,189.3 1376.5,230.2 1376.9,191.9 1377.3,231.8 1377.7,188.9 1378.1,229.5 1378.5,183.1 1378.9,229.9 1379.3,191.3 1379.7,231.2 1380.1,191.3 1380.5,229.1 1380.9,191.3 1381.3,229.3 1381.7,190.5 1382.1,231.2 1382.5,191.5 1382.9,230.4 1383.3,191.4 1383.7,230.2 1384.1,191.8 1384.5,231.6 1384.9,181.0 1385.3,236.9 1385.7,192.0 1386.1,232.3 1386.5,190.4 1386.9,230.2 1387.3,191.5 1387.7,229.7 1388.1,191.9 1388.5,229.2 1388.9,190.7 1389.3,230.1 1389.7,190.1 1390.1,231.6 1390.5,191.5 1390.9,233.3 1391.3,190.9 1391.7,229.2 1392.1,63.2 1392.5,115.0 1392.9,66.6 1393.3,108.5 1393.7,64.8 1394.1,118.0 1394.5,66.6 1394.9,115.5 1395.3,63.4 1395.7,106.9 1396.1,66.8 1396.5,107.0 1396.9,67.6 1397.3,108.3 1397.7,65.2 1398.1,110.3 1398.5,65.3 1398.9,105.6 1399.3,64.9 1399.7,106.1 1400.1,67.2 1400.5,105.7 1400.9,66.3 1401.3,105.5 1401.7,64.2 1402.1,105.5 1402.5,62.3 1402.9,105.9 1403.3,66.5 1403.7,108.5 1404.1,67.6 1404.5,116.6 1404.9,66.9 1405.3,114.0 1405.7,66.5 1406.1,105.9 1406.5,67.0 1406.9,108.1 1407.3,66.9 1407.7,105.6 1408.1,67.6 1408.5,113.9 1408.9,65.0 1409.3,106.9 1409.7,58.3 1410.1,107.4 1410.5,67.3 1410.9,105.8 1411.3,67.6 1411.7,105.7 1412.1,58.1 1412.5,110.7 1412.9,67.5 1413.3,118.9 1413.7,66.6 1414.1,106.9 1414.5,66.7 1414.9,118.3 1415.3,67.1 1415.7,109.4 1416.1,66.7 1416.5,106.0 1416.9,66.5 1417.3,109.6 1417.7,67.5 1418.1,105.6 1418.5,65.2 1418.9,109.3 1419.3,62.7 1419.7,110.7 1420.1,65.5 1420.5,105.9 1420.9,66.7 1421.3,106.0 1421.7,67.1 1422.1,106.2 1422.5,65.8 1422.9,115.2 1423.3,67.1 1423.7,105.4 1424.1,67.1 1424.5,105.5 1424.9,66.6 1425.3,105.7 1425.7,66.6 1426.1,106.0 1426.5,65.3 1426.9,111.2 1427.3,67.0 1427.7,106.1 1428.1,62.0 1428.5,106.4 1428.9,67.1 1429.3,106.4 1429.7,67.2 1430.1,106.0 1430.5,66.6 1430.9,105.4 1431.3,67.2 1431.7,105.7 1432.1,64.9 1432.5,107.7 1432.9,63.8 1433.3,120.0 1433.7,66.3 1434.1,106.2 1434.5,65.7 1434.9,115.4 1435.3,67.6 1435.7,106.9 1436.1,59.8 1436.5,105.8 1436.9,66.4 1437.3,105.7 1437.7,61.3 1438.1,105.6 1438.5,65.6 1438.9,106.4 1439.3,58.7 1439.7,105.7 1440.1,67.5 1440.5,109.7 1440.9,67.3 1441.3,106.0 1441.7,66.7 1442.1,106.2 1442.5,63.7 1442.9,106.5 1443.3,67.6 1443.7,106.1 1444.1,63.6 1444.5,116.4 1444.9,64.3 1445.3,108.1 1445.7,67.1 1446.1,116.2 1446.5,65.9 1446.7,230.8 1447.1,180.2 1447.5,229.9 1447.9,179.9 1448.3,229.8 1448.7,191.6 1449.1,230.7 1449.5,192.0 1449.9,229.4 1450.3,189.1 1450.7,235.2 1451.1,190.2 1451.5,230.5 1451.9,191.1 1452.3,234.9 1452.7,191.3 1453.1,229.2 1453.5,179.4 1453.9,231.9 1454.3,177.2 1454.7,233.5 1455.1,191.9 1455.5,231.6 1455.9,177.7 1456.3,233.0 1456.7,186.8 1457.1,230.1 1457.5,189.5 1457.9,230.3 1458.3,177.6 1458.7,234.2 1459.1,192.0 1459.5,231.2 1459.9,191.6 1460.3,230.1 1460.7,191.7 1461.1,231.0 1461.5,182.3 1461.9,235.6 1462.3,191.8 1462.7,229.6 1463.1,189.7 1463.5,230.1 1463.9,191.9 1464.1,67.4 1464.5,106.9 1464.9,66.4 1465.3,111.7 1465.7,66.4 1466.1,106.4 1466.5,65.6 1466.9,119.6 1467.3,60.7 1467.7,106.2 1468.1,66.8 1468.5,105.7 1468.9,66.2 1469.3,105.7 1469.7,64.6 1470.1,106.4 1470.5,64.9 1470.9,106.6 1471.3,66.8 1471.7,106.2 1472.1,66.4 1472.5,114.0 1472.9,66.8 1473.3,120.5 1473.7,65.7 1474.1,109.5 1474.5,67.3 1474.9,107.0 1475.3,64.0 1475.7,106.4 1476.1,65.2 1476.5,105.3 1476.9,64.8 1477.3,105.6 1477.7,67.5 1478.1,105.5 1478.5,65.5 1478.9,113.6 1479.3,66.5 1479.7,110.0 1480.1,67.5 1480.5,106.5 1480.9,67.5 1481.3,106.3 1481.7,67.5 1482.1,109.2 1482.5,66.6 1482.9,105.6 1483.3,65.8 1483.7,105.5 1484.1,58.9 1484.5,110.1 1484.9,65.2 1485.3,106.1 1485.7,67.3 1486.1,106.9 1486.5,67.2 1486.9,113.0 1487.3,66.7 1487.7,105.4 1488.1,67.0 1488.5,106.3 1488.9,67.2 1489.3,105.5 1489.7,66.4 1490.1,110.3 1490.5,66.9 1490.9,106.3 1491.3,65.7 1491.7,119.9 1492.1,67.4 1492.5,105.5 1492.9,60.6 1493.3,106.7 1493.7,67.2 1494.1,107.0 1494.5,67.1 1494.9,106.8 1495.3,67.3 1495.6,229.8 1496.0,190.5 1496.4,229.4 1496.8,190.6 1497.2,230.5 1497.6,192.0 1498.0,234.6 1498.4,191.8 1498.8,229.4 1499.2,190.2 1499.6,230.3 1500.0,190.2 1500.4,229.5 1500.8,190.4 1501.2,229.8 1501.6,190.8 1502.0,229.5 1502.4,190.9 1502.8,231.3 1503.2,183.6 1503.6,232.9 1504.0,192.1 1504.4,230.6 1504.8,182.4 1505.2,231.1 1505.6,191.6 1506.0,231.3 1506.4,192.0 1506.8,232.8 1507.2,176.3 1507.6,229.1 1508.0,188.5 1508.2,67.6 1508.6,106.5 1509.0,67.4 1509.4,107.8 1509.8,60.9 1510.2,106.6 1510.6,59.5 1511.0,105.5 1511.4,67.2 1511.8,111.8 1512.2,59.6 1512.6,107.0 1513.0,67.0 1513.4,120.7 1513.8,65.3 1514.2,113.6 1514.6,67.4 1515.0,105.6 1515.4,64.7 1515.8,115.5 1516.2,61.9 1516.6,112.2 1517.0,65.1 1517.4,106.8 1517.8,67.0 1518.2,107.7 1518.6,66.2 1519.0,106.1 1519.4,66.9 1519.8,106.8 1520.2,66.5 1520.6,107.3 1521.0,60.8 1521.4,105.7 1521.8,67.6 1522.2,106.7 1522.6,67.2 1523.0,107.5 1523.4,66.6 1523.8,105.6 1524.2,64.7 1524.6,112.0 1525.0,67.0 1525.4,109.7 1525.8,67.6 1526.2,115.8 1526.6,66.6 1527.0,106.7 1527.4,60.1 1527.8,105.9 1528.2,67.0 1528.6,107.9 1529.0,61.0 1529.4,105.7 1529.8,66.8 1530.1,123.8 1530.2,111.5 1530.6,66.1 1531.0,105.9 1531.4,66.5 1531.8,106.5 1532.2,66.8 1532.6,110.1 1533.0,66.7 1533.4,105.5 1533.8,66.7 1534.2,106.9 1534.6,62.6 1535.0,106.9 1535.4,65.1 1535.8,106.8 1536.2,65.3 1536.6,108.0 1537.0,67.4 1537.4,107.3 1537.8,67.5 1538.2,106.1 1538.6,67.1 1539.0,106.8 1539.4,66.3 1539.8,110.4 1540.2,66.1 1540.6,117.3 1541.0,61.6 1541.4,106.7 1541.8,66.8 1542.2,115.5 1542.6,65.3 1543.0,107.2 1543.4,67.6 1543.8,105.5 1544.2,65.6 1544.6,105.5 1545.0,67.0 1545.4,107.7 1545.8,64.7 1546.2,106.6 1546.6,67.4 1547.0,106.8 1547.4,66.3 1547.8,106.4 1548.0,230.3 1548.4,189.1 1548.8,235.0 1549.2,190.9 1549.6,234.6 1550.0,191.7 1550.4,230.3 1550.8,191.6 1551.2,229.9 1551.6,189.7 1552.0,229.7 1552.4,190.8 1552.8,236.6 1553.2,191.0 1553.6,229.7 1554.0,184.8 1554.4,229.2 1554.8,191.4 1555.2,238.9 1555.6,190.7 1556.0,231.7 1556.4,188.5 1556.8,229.2 1557.2,192.2 1557.6,229.4 1558.0,185.9 1558.4,234.2 1558.8,185.4 1559.2,236.3 1559.6,180.4 1560.0,231.9 1560.4,190.1 1560.8,231.3 1561.2,191.7 1561.6,229.3 1562.0,184.6 1562.4,231.7 1562.8,191.2 1563.2,229.5 1563.6,191.5 1564.0,229.1 1564.4,186.3 1564.8,229.2 1565.2,192.2 1565.6,231.3 1566.0,192.1 1566.4,232.5 1566.8,190.9 1567.2,230.4 1567.6,192.1 1568.0,230.2 1568.4,191.4 1568.8,229.1 1569.2,191.3 1569.6,229.2 1570.0,191.4 1570.4,231.0 1570.8,189.6 1571.2,230.5 1571.6,190.6 1572.0,229.3 1572.4,190.5 1572.8,229.5 1573.2,191.3 1573.6,232.0 1574.0,191.1 1574.4,230.6 1574.8,177.1 1575.2,231.6 1575.6,190.4 1575.9,66.9 1576.3,120.4 1576.7,66.7 1577.1,114.5 1577.5,59.9 1577.9,105.5 1578.3,61.7 1578.7,105.5 1579.1,67.2 1579.5,108.4 1579.9,59.3 1580.3,106.3 1580.7,237.6 1581.1,186.6 1581.5,229.7 1581.9,188.8 1582.3,229.1 1582.7,190.2 1583.1,230.1 1583.5,184.2 1583.8,66.6 1584.2,106.3 1584.6,67.5 1585.0,106.0 1585.4,66.8 1585.8,105.9 1586.2,61.5 1586.6,111.3 1587.0,66.6 1587.4,106.1 1587.8,66.7 1588.2,105.5 1588.6,58.3 1589.0,105.9 1589.4,60.1 1589.8,106.7 1590.2,63.6 1590.6,107.3 1591.0,65.4 1591.4,105.4 1591.8,66.2 1592.2,106.5 1592.6,67.0 1593.0,107.5 1593.4,65.6 1593.8,105.5 1594.2,67.6 1594.6,118.4 1595.0,66.4 1595.4,106.9 1595.8,66.6 1596.2,106.8 1596.6,67.2 1597.0,115.8 1597.4,62.5 1597.8,110.0 1598.2,66.3 1598.6,106.1 1599.0,60.8 1599.4,106.1 1599.8,67.1 1600.0,235.7 1600.4,192.1 1600.8,232.7 1601.2,191.4 1601.6,229.9 1602.0,184.2 1602.4,229.7 1602.8,189.5 1603.2,229.3 1603.6,191.1 1604.0,230.6 1604.4,184.8 1604.8,66.3 1605.2,107.9 1605.6,66.6 1606.0,105.5 1606.4,67.4 1606.8,107.9 1607.2,67.2 1607.6,105.9 1608.0,66.8 1608.4,114.6 1608.8,67.5 1609.2,107.0 1609.6,66.6 1610.0,107.1 1610.4,67.5 1610.8,106.0 1611.2,65.7 1611.6,110.0 1612.0,66.0 1612.4,118.7 1612.8,66.4 1613.2,105.8 1613.6,66.9 1614.0,108.8 1614.4,65.9 1614.8,114.9 1615.2,64.5 1615.6,110.5 1616.0,66.8 1616.4,105.6 1616.8,67.2 1617.2,106.2 1617.6,66.6 1618.0,106.0 1618.4,61.3 1618.8,105.4 1619.2,65.8 1619.6,115.3 1620.0,67.0 1620.4,115.7 1620.8,66.9 1621.2,106.0 1621.6,64.4 1622.0,121.1 1622.4,65.0 1622.8,109.3 1623.2,66.0 1623.6,106.7 1624.0,66.9 1624.4,120.0 1624.8,61.2 1625.2,115.9 1625.3,130.8 1625.6,66.2 1626.0,116.2 1626.4,67.4 1626.8,105.6 1627.2,67.4 1627.6,106.1 1628.0,65.7 1628.4,111.0 1628.8,62.0 1629.2,105.9 1629.6,64.6 1630.0,119.4 1630.4,66.1 1630.8,105.6 1631.0,229.8 1631.4,190.9 1631.8,229.4 1632.2,190.4 1632.6,230.7 1633.0,185.6 1633.4,229.6 1633.8,191.4 1634.2,231.3 1634.6,191.2 1635.0,229.3 1635.4,189.8 1635.8,230.4 1636.2,191.4 1636.6,229.1 1637.0,183.4 1637.4,229.9 1637.8,189.1 1638.2,231.6 1638.6,191.0 1639.0,233.9 1639.4,189.4 1639.8,233.7 1640.2,191.2 1640.5,64.9 1640.9,108.3 1641.3,63.0 1641.7,106.2 1642.1,61.0 1642.5,105.9 1642.9,67.2 1643.3,119.4 1643.7,62.6 1644.1,106.9 1644.4,229.3 1644.8,191.3 1645.2,229.5 1645.6,191.0 1646.0,234.9 1646.4,189.8 1646.8,230.0 1647.2,191.4 1647.6,230.9 1648.0,189.7 1648.4,229.8 1648.8,191.8 1649.2,235.0 1649.6,189.6 1650.0,231.9 1650.4,191.7 1650.8,65.4 1651.2,105.5 1651.6,67.6 1652.0,106.3 1652.4,67.6 1652.8,119.9 1653.2,67.0 1653.6,106.2 1654.0,65.3 1654.4,106.2 1654.8,66.7 1655.2,108.7 1655.6,64.7 1656.0,117.1 1656.4,67.2 1656.8,106.5 1657.2,65.2 1657.6,105.5 1658.0,66.9 1658.4,110.0 1658.8,66.8 1659.2,109.6 1659.6,66.5 1660.0,109.9 1660.4,67.2 1660.8,116.4 1661.2,61.4 1661.6,106.4 1662.0,65.5 1662.4,105.9 1662.8,65.6 1663.2,106.5 1663.6,66.3 1664.0,106.0 1664.4,65.5 1664.8,105.5 1665.2,66.7 1665.6,118.9 1666.0,66.3 1666.4,105.7 1666.8,63.3 1667.2,106.6 1667.6,56.6 1668.0,107.6 1668.4,65.9 1668.8,106.1 1669.2,61.9 1669.6,105.7 1670.0,64.6 1670.4,114.3 1670.8,66.2 1671.2,107.7 1671.6,66.3 1672.0,117.8 1672.4,67.0 1672.8,109.5 1673.2,66.6 1673.6,105.5 1674.0,65.9 1674.4,106.1 1674.8,59.0 1675.2,106.7 1675.6,67.1 1676.0,120.7 1676.4,67.4 1676.8,110.8 1677.2,62.4 1677.6,105.9 1678.0,67.4 1678.4,118.4 1678.8,67.4 1679.2,106.1 1679.6,66.5 1680.0,108.7 1680.4,60.4 1680.8,108.4 1681.2,66.4 1681.6,107.0 1682.0,65.8 1682.4,106.4 1682.8,67.4 1683.2,106.8 1683.6,66.4 1684.0,115.2 1684.4,62.7 1684.8,106.6 1685.2,65.1 1685.6,106.1 1686.0,64.9 1686.4,107.2 1686.8,67.3 1687.2,111.4 1687.6,67.4 1687.8,229.7 1688.2,191.4 1688.6,231.2 1689.0,190.6 1689.4,232.2 1689.8,191.3 1690.2,229.2 1690.6,179.8 1691.0,229.2 1691.4,191.0 1691.8,229.6 1692.2,191.7 1692.6,229.2 1693.0,189.9 1693.4,231.0 1693.8,189.4 1694.2,230.2 1694.6,190.5 1695.0,230.6 1695.4,178.3 1695.8,233.9 1696.2,190.6 1696.6,229.9 1697.0,190.6 1697.4,230.7 1697.8,181.6 1698.2,229.5 1698.6,191.4 1699.0,236.6 1699.4,192.1 1699.8,231.2 1700.2,179.8 1700.6,230.3 1700.9,68.6 1701.0,190.5 1701.4,229.7 1701.8,190.7 1702.2,232.2 1702.6,189.1 1703.0,229.4 1703.4,184.8 1703.8,230.1 1704.2,185.6 1704.6,230.1 1705.0,189.9 1705.4,229.7 1705.8,179.5 1706.2,235.2 1706.6,191.2 1707.0,230.9 1707.4,190.6 1707.8,229.9 1708.2,188.8 1708.6,230.7 1709.0,191.0 1709.4,230.2 1709.8,180.3 1710.2,229.2 1710.6,192.1 1711.0,232.0 1711.4,191.5 1711.8,234.1 1712.2,177.5 1712.6,230.7 1713.0,191.8 1713.4,234.6 1713.8,191.1 1714.2,229.3 1714.6,189.3 1715.0,230.3 1715.4,184.1 1715.8,229.7 1716.2,191.9 1716.6,229.7 1717.0,190.2 1717.4,229.6 1717.8,191.7 1718.2,230.8 1718.6,191.6 1719.0,229.8 1719.4,192.2 1719.8,229.1 1720.2,191.4 1720.6,229.6 1721.0,191.3 1721.4,229.2 1721.8,179.0 1722.2,229.8 1722.6,187.6 1723.0,230.6 1723.4,191.6 1723.8,237.2 1724.2,192.1 1724.6,230.4 1725.0,191.2 1725.4,230.2 1725.8,191.5 1726.2,231.1 1726.6,190.1 1727.0,230.7 1727.4,183.3 1727.8,231.8 1728.2,192.1 1728.6,231.2 1729.0,189.7 1729.4,231.0 1729.8,191.1 1730.2,229.1 1730.6,190.6 1731.0,230.3 1731.4,184.2 1731.8,230.5 1732.2,191.3 1732.6,234.4 1733.0,182.7 1733.4,235.8 1733.8,190.0 1734.2,229.9 1734.6,192.2 1735.0,229.6 1735.4,191.5 1735.8,235.0 1736.2,191.5 1736.6,229.3 1737.0,191.1 1737.4,229.6 1737.8,190.9 1738.2,229.1 1738.6,191.8 1739.0,231.8 1739.4,185.6 1739.8,229.8 1740.2,191.5 1740.6,231.4 1740.7,65.8 1741.1,114.2 1741.5,66.5 1741.9,106.5 1742.3,67.6 1742.7,106.1 1743.1,66.7 1743.5,106.1 1743.9,66.7 1744.3,105.8 1744.7,66.8 1745.1,106.1 1745.5,67.5 1745.9,106.3 1746.3,65.8 1746.7,107.1 1747.1,63.9 1747.5,117.0 1747.9,63.8 1748.3,117.3 1748.7,67.6 1749.1,109.6 1749.5,66.8 1749.9,105.7 1750.3,67.5 1750.7,106.9 1751.1,66.3 1751.5,107.3 1751.9,66.6 1752.3,116.0 1752.7,66.3 1752.9,229.1 1753.3,187.0 1753.7,229.8 1754.1,190.8 1754.5,229.8 1754.9,190.9 1755.3,230.1 1755.7,186.9 1756.1,229.6 1756.5,191.3 1756.9,235.1 1757.3,191.4 1757.7,229.7 1758.1,192.0 1758.5,236.5 1758.9,184.0 1759.3,230.1 1759.7,190.7 1760.1,230.6 1760.5,189.7 1760.9,230.4 1761.3,191.3 1761.7,230.1 1762.1,191.8 1762.5,229.6 1762.9,188.5 1763.3,235.1 1763.7,181.1 1764.1,236.9 1764.5,189.0 1764.9,229.5 1765.3,191.2 1765.7,229.1 1766.1,189.5 1766.5,229.8 1766.9,183.4 1767.3,229.9 1767.7,191.4 1768.1,229.6 1768.5,191.3 1768.9,231.1 1769.3,190.6 1769.7,231.2 1770.1,180.8 1770.5,230.3 1770.9,191.8 1771.3,231.9 1771.7,189.8 1772.1,231.4 1772.5,190.2 1772.9,229.2 1773.3,190.9 1773.7,229.8 1774.1,178.7 1774.5,230.8 1774.9,190.7 1775.3,230.8 1775.7,190.6 1776.1,229.9 1776.5,191.8 1776.9,235.4 1777.3,186.5 1777.7,230.2 1778.1,181.5 1778.5,234.1 1778.9,192.0 1779.3,229.3 1779.7,179.7 1780.1,234.2 1780.5,190.4 1780.9,230.1 1781.3,185.0 1781.7,229.6 1782.1,190.5 1782.5,230.0 1782.9,179.8 1783.3,234.9 1783.7,181.6 1784.1,230.5 1784.5,189.9 1784.9,229.2 1785.3,192.2 1785.7,230.3 1786.1,189.5 1786.5,229.4 1786.9,191.5 1787.0,62.5 1787.4,108.3 1787.8,65.6 1788.2,105.9 1788.6,65.5 1789.0,119.2 1789.4,66.8 1789.8,107.3 1790.2,65.7 1790.6,106.5 1791.0,64.7 1791.4,106.6 1791.8,65.5 1792.2,106.4 1792.6,66.9 1793.0,115.0 1793.4,66.0 1793.8,115.3 1794.2,66.1 1794.6,105.8 1795.0,65.5 1795.3,231.0 1795.4,107.2 1795.8,61.7 1796.2,113.5 1796.6,59.6 1797.0,107.5 1797.4,67.5 1797.8,108.1 1798.2,64.7 1798.6,105.9 1799.0,63.6 1799.4,105.7 1799.8,65.4 1800.2,105.8 1800.6,66.8 1801.0,110.5 1801.4,65.9 1801.8,115.2 1802.2,66.2 1802.6,107.4 1803.0,67.2 1803.4,119.2 1803.8,65.8 1804.2,106.5 1804.6,63.6 1805.0,105.7 1805.4,63.3 1805.8,105.8 1806.2,66.9 1806.6,113.4 1807.0,66.2 1807.4,110.8 1807.8,61.6 1808.2,107.5 1808.4,232.5 1808.8,176.8 1809.2,230.9 1809.6,183.9 1810.0,236.0 1810.4,192.1 1810.8,229.5 1811.2,178.0 1811.6,230.8 1812.0,188.1 1812.4,229.2 1812.8,181.4 1813.2,234.3 1813.6,184.2 1814.0,235.8 1814.4,185.6 1814.8,236.1 1814.9,65.8 1815.3,105.9 1815.7,66.5 1816.1,106.6 1816.5,67.4 1816.9,111.5 1817.3,64.9 1817.7,105.5 1818.1,66.8 1818.5,109.3 1818.9,66.7 1819.3,107.3 1819.7,66.8 1820.1,119.2 1820.5,66.9 1820.9,118.2 1821.3,64.1 1821.7,107.6 1822.1,67.5 1822.5,106.7 1822.9,67.2 1823.3,106.0 1823.7,62.6 1824.1,105.5 1824.5,67.3 1824.9,105.9 1825.3,64.6 1825.7,105.4 1825.8,230.8 1826.2,190.9 1826.6,231.3 1827.0,190.6 1827.4,234.5 1827.8,190.6 1828.2,230.2 1828.6,192.2 1829.0,235.0 1829.4,192.1 1829.8,229.8 1830.2,190.3 1830.6,234.1 1831.0,189.0 1831.4,229.2 1831.8,189.5 1832.2,230.3 1832.3,66.5 1832.7,106.1 1833.1,66.6 1833.5,106.7 1833.9,65.9 1834.3,109.2 1834.7,64.0 1835.1,115.5 1835.5,64.5 1835.9,106.9 1836.3,63.3 1836.7,106.1 1837.1,67.0 1837.5,115.0 1837.9,61.3 1838.3,120.0 1838.7,66.5 1839.1,105.8 1839.5,66.8 1839.9,105.7 1840.3,67.5 1840.7,114.1 1841.1,66.8 1841.5,106.0 1841.9,67.5 1842.3,110.7 1842.7,65.5 1843.1,105.4 1843.5,64.0 1843.9,114.4 1844.3,67.1 1844.7,119.0 1845.1,66.6 1845.5,106.6 1845.9,66.9 1846.3,106.4 1846.7,64.5 1847.1,105.8 1847.5,67.3 1847.9,106.4 1848.3,64.8 1848.7,107.1 1849.1,67.1 1849.5,106.2 1849.9,67.2 1850.1,238.8 1850.5,186.5 1850.9,229.3 1851.3,191.8 1851.7,229.6 1852.1,190.4 1852.5,234.9 1852.9,183.8 1853.3,229.4 1853.7,190.5 1854.1,229.2 1854.5,191.7 1854.9,235.7 1855.3,189.3 1855.7,231.0 1856.1,191.8 1856.5,229.6 1856.9,190.7 1857.3,230.3 1857.7,192.1 1858.1,234.9 1858.5,190.3 1858.9,231.9 1859.3,190.7 1859.7,229.8 1860.1,186.1 1860.2,64.7 1860.6,112.7 1861.0,67.6 1861.4,105.3 1861.8,67.6 1862.2,105.5 1862.6,62.0 1863.0,114.7 1863.4,66.8 1863.8,106.2 1864.2,66.8 1864.6,108.3 1865.0,67.3 1865.4,116.8 1865.8,67.0 1866.2,105.8 1866.4,229.5 1866.8,192.1 1867.2,235.7 1867.6,190.4 1868.0,229.8 1868.4,181.6 1868.8,229.8 1869.2,185.6 1869.6,229.4 1870.0,189.5 1870.4,229.9 1870.8,178.8 1871.2,234.6 1871.6,177.6 1872.0,232.4 1872.1,67.0 1872.5,107.1 1872.9,66.8 1873.3,106.4 1873.7,66.0 1874.1,106.2 1874.5,67.6 1874.9,105.3 1875.3,67.2 1875.7,107.1 1876.1,66.1 1876.5,112.7 1876.9,66.6 1877.3,106.5 1877.7,66.4 1878.1,105.3 1878.5,67.3 1878.9,115.8 1879.3,66.6 1879.7,116.5 1880.1,65.7 1880.5,105.8 1880.9,67.0 1881.3,106.3 1881.7,60.7 1882.1,105.8 1882.5,67.4 1882.9,109.7 1883.3,66.9 1883.7,117.3 1884.1,66.4 1884.5,113.3 1884.9,67.4 1885.3,105.4 1885.7,66.6 1886.1,109.5 1886.5,65.7 1886.9,106.7 1887.3,65.4 1887.7,109.0 1888.1,64.9 1888.5,108.6 1888.9,66.6 1889.3,112.5 1889.7,66.3 1890.1,116.2 1890.5,67.3 1890.9,105.4 1891.3,63.6 1891.7,106.6 1892.1,65.9 1892.5,105.9 1892.9,67.4 1893.3,106.6 1893.7,66.9 1894.1,106.2 1894.3,229.9 1894.7,177.6 1895.1,230.1 1895.5,191.4 1895.9,229.2 1896.3,191.7 1896.7,230.3 1897.1,188.2 1897.5,234.8 1897.9,192.1 1898.3,229.5 1898.7,191.1 1899.1,229.6 1899.5,184.5 1899.9,231.6 1900.3,191.9 1900.7,234.2 1901.1,189.0 1901.5,229.6 1901.9,191.8 1902.3,230.4 1902.7,192.0 1903.1,237.2 1903.5,189.3 1903.9,229.7 1904.3,191.5 1904.7,230.9 1905.1,192.1 1905.5,229.7 1905.9,192.0 1906.3,230.5 1906.7,191.4 1907.1,229.6 1907.5,189.8 1907.9,229.9 1908.3,191.8 1908.7,229.2 1909.1,182.1 1909.5,236.4 1909.9,191.8 1910.3,231.8 1910.7,189.7 1911.1,229.6 1911.5,190.2 1911.9,232.7 1912.3,181.8 1912.7,229.1 1913.1,191.7 1913.5,230.2 1913.9,188.2 1914.3,230.8 1914.7,180.7 1915.1,230.6 1915.5,185.2 1915.9,229.5 1916.3,183.2 1916.7,229.4 1917.1,190.5 1917.5,229.1 1917.9,191.6 1918.3,230.6 1918.7,190.3 1919.1,231.4 1919.5,190.9 1919.9,230.1 1920.3,191.1 1920.7,230.2 1921.1,192.2 1921.5,231.1 1921.9,192.1 1922.3,235.7 1922.7,177.1 1923.1,229.6 1923.5,191.7 1923.9,229.1 1924.3,190.4 1924.7,229.8 1925.1,192.1 1925.3,66.5 1925.7,110.1 1926.1,67.2 1926.5,107.1 1926.9,67.4 1927.3,107.1 1927.7,67.2 1928.1,106.8 1928.5,67.3 1928.9,106.4 1929.3,67.4 1929.7,117.7 1930.1,232.3 1930.5,186.0 1930.9,230.5 1931.3,191.2 1931.7,229.2 1932.1,180.8 1932.5,235.3 1932.9,191.7 1933.3,229.3 1933.7,187.8 1934.1,233.6 1934.5,188.4 1934.9,231.4 1935.3,179.1 1935.7,232.7 1936.1,189.6 1936.5,229.8 1936.9,189.4 1937.3,229.3 1937.7,177.8 1938.1,229.5 1938.5,190.9 1938.9,229.3 1939.3,189.2 1939.7,231.9 1940.1,191.5 1940.5,229.9 1940.9,190.0 1941.3,229.2 1941.7,187.5 1942.1,230.8 1942.5,190.5 1942.9,231.3 1943.3,191.9 1943.7,235.0 1944.1,190.7 1944.5,230.5 1944.9,191.3 1945.3,230.9 1945.7,191.7 1946.1,237.0 1946.5,185.2 1946.9,229.7 1947.3,190.6 1947.7,230.5 1948.1,190.2 1948.5,232.8 1948.9,182.2 1949.3,229.7 1949.7,190.5 1950.1,229.6 1950.5,191.0 1950.9,229.6 1951.3,191.2 1951.7,230.2 1952.1,191.4 1952.5,232.5 1952.9,191.3 1953.3,229.1 1953.7,177.7 1954.1,231.9 1954.5,188.8 1954.9,231.4 1955.3,190.2 1955.7,229.2 1955.8,65.0 1956.2,118.5 1956.6,65.3 1957.0,106.7 1957.4,66.0 1957.8,107.2 1958.2,66.1 1958.6,106.7 1959.0,67.1 1959.4,105.7 1959.8,66.8 1960.2,108.1" fill="none" stroke="#231f20" stroke-width="1.9" stroke-linejoin="round"/>
<line x1="140.9" y1="163.6" x2="2106.2" y2="163.6" stroke="#e31f26" stroke-width="4" stroke-dasharray="15.5 6.58"/>
<rect x="141.1" y="46.6" width="1966.9" height="204.1" fill="none" stroke="#231f20" stroke-width="3.8"/>
<line x1="128.4" y1="48.6" x2="141.1" y2="48.6" stroke="#231f20" stroke-width="3.6" />
<text transform="translate(113.3,60.9) scale(1,1.03)" font-size="33.4" text-anchor="end" >1</text>
<line x1="128.4" y1="148.8" x2="141.1" y2="148.8" stroke="#231f20" stroke-width="3.6" />
<text transform="translate(113.3,161.1) scale(1,1.03)" font-size="33.4" text-anchor="end" >0</text>
<line x1="128.4" y1="249" x2="141.1" y2="249" stroke="#231f20" stroke-width="3.6" />
<text transform="translate(113.3,261.3) scale(1,1.03)" font-size="33.4" text-anchor="end" >&#8722;1</text>
<line x1="337.79" y1="250.7" x2="337.79" y2="263.2" stroke="#231f20" stroke-width="3.6" />
<text transform="translate(337.79,301.5) scale(1,1.03)" font-size="33.4" text-anchor="middle" >0</text>
<line x1="583.65" y1="250.7" x2="583.65" y2="263.2" stroke="#231f20" stroke-width="3.6" />
<text transform="translate(583.65,301.5) scale(1,1.03)" font-size="33.4" text-anchor="middle" >50</text>
<line x1="829.51" y1="250.7" x2="829.51" y2="263.2" stroke="#231f20" stroke-width="3.6" />
<text transform="translate(829.51,301.5) scale(1,1.03)" font-size="33.4" text-anchor="middle" >100</text>
<line x1="1075.38" y1="250.7" x2="1075.38" y2="263.2" stroke="#231f20" stroke-width="3.6" />
<text transform="translate(1075.38,301.5) scale(1,1.03)" font-size="33.4" text-anchor="middle" >150</text>
<line x1="1321.24" y1="250.7" x2="1321.24" y2="263.2" stroke="#231f20" stroke-width="3.6" />
<text transform="translate(1321.24,301.5) scale(1,1.03)" font-size="33.4" text-anchor="middle" >200</text>
<line x1="1567.1" y1="250.7" x2="1567.1" y2="263.2" stroke="#231f20" stroke-width="3.6" />
<text transform="translate(1567.1,301.5) scale(1,1.03)" font-size="33.4" text-anchor="middle" >250</text>
<line x1="1812.96" y1="250.7" x2="1812.96" y2="263.2" stroke="#231f20" stroke-width="3.6" />
<text transform="translate(1812.96,301.5) scale(1,1.03)" font-size="33.4" text-anchor="middle" >300</text>
<line x1="2058.83" y1="250.7" x2="2058.83" y2="263.2" stroke="#231f20" stroke-width="3.6" />
<text transform="translate(2058.83,301.5) scale(1,1.03)" font-size="33.4" text-anchor="middle" >350</text>
<text transform="translate(1124.2,355.6) scale(1,1.03)" font-size="41.67" text-anchor="middle" >Time (min)</text>
<text transform="translate(46.9,182.19) rotate(-90) scale(1.0249,1)" font-size="35.47">&#916;</text>
<text transform="translate(46.9,158.04) rotate(-90) scale(1.1424,1)" font-size="34.48" font-style="italic">f</text>
<text transform="translate(52.9,142.01) rotate(-90) scale(0.9796,1)" font-size="22.95" font-family="'DejaVu Sans', sans-serif">&#8593;</text>
<text transform="translate(199.68,111.23) scale(1.0792,1)" font-size="41.40" font-family="'DejaVu Sans', sans-serif" font-weight="200" fill="#0fb2e4">|</text>
<text transform="translate(201.89,118.2) scale(1.2053,1)" font-size="48.77" font-family="'DejaVu Sans', sans-serif" fill="#0fb2e4" stroke="#fff" stroke-width="1.4">&#8657;</text>
<text transform="translate(239.52,114.87) scale(0.9349,1)" font-size="46.46" font-family="'DejaVu Sans', sans-serif" fill="#0fb2e4" stroke="#fff" stroke-width="1.5">&#10217;</text>
<text transform="translate(199.58,219.91) scale(1.0766,1)" font-size="41.50" font-family="'DejaVu Sans', sans-serif" font-weight="200" fill="#1461a6">|</text>
<text transform="translate(202.29,227.15) scale(1.1631,1)" font-size="50.14" font-family="'DejaVu Sans', sans-serif" fill="#1461a6" stroke="#fff" stroke-width="1.4">&#8659;</text>
<text transform="translate(239.32,223.55) scale(0.9618,1)" font-size="46.58" font-family="'DejaVu Sans', sans-serif" fill="#1461a6" stroke="#fff" stroke-width="1.5">&#10217;</text>
<text transform="translate(20.8,22)" font-size="41.67" fill="#231815" font-weight="bold" >a</text>
<circle cx="167.16" cy="708.05" r="6.35" fill="#231f20"/>
<circle cx="173.43" cy="649.35" r="6.35" fill="#231f20"/>
<circle cx="179.69" cy="613.15" r="6.35" fill="#231f20"/>
<circle cx="185.96" cy="578.31" r="6.35" fill="#231f20"/>
<circle cx="192.23" cy="548.16" r="6.35" fill="#231f20"/>
<circle cx="198.5" cy="520.95" r="6.35" fill="#231f20"/>
<circle cx="204.77" cy="496.45" r="6.35" fill="#231f20"/>
<circle cx="211.04" cy="478.79" r="6.35" fill="#231f20"/>
<circle cx="217.31" cy="465.75" r="6.35" fill="#231f20"/>
<circle cx="223.58" cy="453.57" r="6.35" fill="#231f20"/>
<circle cx="229.84" cy="446.65" r="6.35" fill="#231f20"/>
<circle cx="236.11" cy="442.68" r="6.35" fill="#231f20"/>
<circle cx="242.38" cy="440.45" r="6.35" fill="#231f20"/>
<circle cx="248.65" cy="441.16" r="6.35" fill="#231f20"/>
<circle cx="254.92" cy="443.71" r="6.35" fill="#231f20"/>
<circle cx="261.19" cy="450.87" r="6.35" fill="#231f20"/>
<circle cx="267.46" cy="459.62" r="6.35" fill="#231f20"/>
<circle cx="273.73" cy="471.15" r="6.35" fill="#231f20"/>
<circle cx="279.99" cy="487.46" r="6.35" fill="#231f20"/>
<circle cx="286.26" cy="501.78" r="6.35" fill="#231f20"/>
<circle cx="292.53" cy="522.07" r="6.35" fill="#231f20"/>
<circle cx="298.8" cy="542.35" r="6.35" fill="#231f20"/>
<circle cx="305.07" cy="563.83" r="6.35" fill="#231f20"/>
<circle cx="311.34" cy="590.88" r="6.35" fill="#231f20"/>
<circle cx="317.61" cy="622.7" r="6.35" fill="#231f20"/>
<circle cx="323.88" cy="640.2" r="6.35" fill="#231f20"/>
<circle cx="330.14" cy="654.12" r="6.35" fill="#231f20"/>
<circle cx="336.41" cy="678.77" r="6.35" fill="#231f20"/>
<circle cx="342.68" cy="722.05" r="6.35" fill="#231f20"/>
<circle cx="348.95" cy="684.1" r="6.35" fill="#231f20"/>
<circle cx="355.22" cy="684.1" r="6.35" fill="#231f20"/>
<circle cx="361.49" cy="746" r="6.35" fill="#231f20"/>
<circle cx="367.76" cy="690.4" r="6.35" fill="#231f20"/>
<circle cx="374.03" cy="722.05" r="6.35" fill="#231f20"/>
<circle cx="380.29" cy="722.05" r="6.35" fill="#231f20"/>
<circle cx="386.56" cy="698.11" r="6.35" fill="#231f20"/>
<circle cx="392.83" cy="722.05" r="6.35" fill="#231f20"/>
<circle cx="399.1" cy="708.05" r="6.35" fill="#231f20"/>
<circle cx="405.37" cy="708.05" r="6.35" fill="#231f20"/>
<circle cx="417.91" cy="698.11" r="6.35" fill="#231f20"/>
<circle cx="430.44" cy="746" r="6.35" fill="#231f20"/>
<circle cx="442.98" cy="722.05" r="6.35" fill="#231f20"/>
<circle cx="455.52" cy="722.05" r="6.35" fill="#231f20"/>
<circle cx="461.79" cy="690.4" r="6.35" fill="#231f20"/>
<circle cx="468.06" cy="661.68" r="6.35" fill="#231f20"/>
<circle cx="474.33" cy="650.54" r="6.35" fill="#231f20"/>
<circle cx="480.59" cy="624.29" r="6.35" fill="#231f20"/>
<circle cx="486.86" cy="590.88" r="6.35" fill="#231f20"/>
<circle cx="493.13" cy="569.4" r="6.35" fill="#231f20"/>
<circle cx="499.4" cy="541.56" r="6.35" fill="#231f20"/>
<circle cx="505.67" cy="521.67" r="6.35" fill="#231f20"/>
<circle cx="511.94" cy="502.58" r="6.35" fill="#231f20"/>
<circle cx="518.21" cy="488.26" r="6.35" fill="#231f20"/>
<circle cx="524.48" cy="473.94" r="6.35" fill="#231f20"/>
<circle cx="530.74" cy="462.01" r="6.35" fill="#231f20"/>
<circle cx="537.01" cy="451.67" r="6.35" fill="#231f20"/>
<circle cx="543.28" cy="445.3" r="6.35" fill="#231f20"/>
<circle cx="549.55" cy="441.08" r="6.35" fill="#231f20"/>
<circle cx="555.82" cy="440.69" r="6.35" fill="#231f20"/>
<circle cx="562.09" cy="442.91" r="6.35" fill="#231f20"/>
<circle cx="568.36" cy="446.89" r="6.35" fill="#231f20"/>
<circle cx="574.62" cy="452.46" r="6.35" fill="#231f20"/>
<circle cx="580.89" cy="465.19" r="6.35" fill="#231f20"/>
<circle cx="587.16" cy="478.71" r="6.35" fill="#231f20"/>
<circle cx="593.43" cy="500.19" r="6.35" fill="#231f20"/>
<circle cx="599.7" cy="524.06" r="6.35" fill="#231f20"/>
<circle cx="605.97" cy="549.51" r="6.35" fill="#231f20"/>
<circle cx="612.24" cy="581.33" r="6.35" fill="#231f20"/>
<circle cx="618.51" cy="614.74" r="6.35" fill="#231f20"/>
<circle cx="624.78" cy="669.63" r="6.35" fill="#231f20"/>
<circle cx="631.04" cy="746" r="6.35" fill="#231f20"/>
<path d="M164.2,663.6 165.6,656.0 167.0,648.6 168.4,641.2 169.8,634.1 171.1,627.0 172.5,620.1 173.9,613.3 175.3,606.7 176.7,600.2 178.1,593.8 179.5,587.6 180.9,581.4 182.3,575.5 183.6,569.6 185.0,563.9 186.4,558.3 187.8,552.8 189.2,547.5 190.6,542.3 192.0,537.2 193.4,532.3 194.8,527.5 196.1,522.8 197.5,518.3 198.9,513.9 200.3,509.6 201.7,505.5 203.1,501.5 204.5,497.6 205.9,493.9 207.3,490.2 208.7,486.8 210.0,483.4 211.4,480.2 212.8,477.1 214.2,474.2 215.6,471.3 217.0,468.6 218.4,466.1 219.8,463.7 221.2,461.4 222.5,459.2 223.9,457.2 225.3,455.3 226.7,453.5 228.1,451.9 229.5,450.4 230.9,449.0 232.3,447.7 233.7,446.6 235.0,445.7 236.4,444.8 237.8,444.1 239.2,443.5 240.6,443.1 242.0,442.8 243.4,442.6 244.8,442.5 246.2,442.6 247.5,442.8 248.9,443.1 250.3,443.6 251.7,444.2 253.1,445.0 254.5,445.8 255.9,446.8 257.3,448.0 258.7,449.2 260.0,450.6 261.4,452.2 262.8,453.8 264.2,455.6 265.6,457.5 267.0,459.6 268.4,461.8 269.8,464.1 271.2,466.5 272.6,469.1 273.9,471.8 275.3,474.7 276.7,477.7 278.1,480.8 279.5,484.0 280.9,487.4 282.3,490.9 283.7,494.5 285.1,498.3 286.4,502.2 287.8,506.3 289.2,510.4 290.6,514.7 292.0,519.1 293.4,523.7 294.8,528.4 296.2,533.2 297.6,538.2 298.9,543.3 300.3,548.5 301.7,553.8 303.1,559.3 304.5,564.9 305.9,570.7 307.3,576.6 308.7,582.6 310.1,588.7 311.4,595.0 312.8,601.4 314.2,607.9 315.6,614.6 317.0,621.4 318.4,628.3 319.8,635.4 321.2,642.6 322.6,649.9 324.0,657.4 325.3,665.0 326.7,672.7 328.1,680.6 329.5,688.6 330.9,696.7" fill="none" stroke="#1461a6" stroke-width="6.5"/>
<path d="M468.2,709.6 469.6,700.9 471.0,692.4 472.4,684.1 473.8,675.9 475.2,667.8 476.7,659.9 478.1,652.1 479.5,644.5 480.9,637.0 482.3,629.6 483.7,622.4 485.1,615.3 486.5,608.4 487.9,601.6 489.3,594.9 490.7,588.4 492.1,582.1 493.5,575.8 494.9,569.7 496.3,563.8 497.7,558.0 499.1,552.3 500.5,546.7 501.9,541.4 503.3,536.1 504.7,531.0 506.1,526.0 507.5,521.2 508.9,516.5 510.3,511.9 511.7,507.5 513.1,503.3 514.5,499.1 515.9,495.2 517.3,491.3 518.7,487.6 520.1,484.0 521.6,480.6 523.0,477.3 524.4,474.2 525.8,471.2 527.2,468.3 528.6,465.6 530.0,463.0 531.4,460.6 532.8,458.3 534.2,456.1 535.6,454.1 537.0,452.2 538.4,450.5 539.8,448.9 541.2,447.4 542.6,446.1 544.0,444.9 545.4,443.9 546.8,443.0 548.2,442.2 549.6,441.6 551.0,441.1 552.4,440.8 553.8,440.6 555.2,440.5 556.6,440.6 558.0,440.8 559.4,441.2 560.8,441.7 562.2,442.4 563.6,443.2 565.0,444.1 566.5,445.2 567.9,446.4 569.3,447.7 570.7,449.2 572.1,450.8 573.5,452.6 574.9,454.5 576.3,456.6 577.7,458.8 579.1,461.1 580.5,463.6 581.9,466.2 583.3,468.9 584.7,471.8 586.1,474.9 587.5,478.1 588.9,481.4 590.3,484.8 591.7,488.4 593.1,492.2 594.5,496.1 595.9,500.1 597.3,504.2 598.7,508.5 600.1,513.0 601.5,517.6 602.9,522.3 604.3,527.1 605.7,532.1 607.1,537.3 608.5,542.6 610.0,548.0 611.4,553.6 612.8,559.3 614.2,565.1 615.6,571.1 617.0,577.2 618.4,583.5 619.8,589.9 621.2,596.5 622.6,603.1 624.0,610.0 625.4,616.9 626.8,624.1 628.2,631.3 629.6,638.7 631.0,646.2 632.4,653.9 633.8,661.7 635.2,669.7 636.6,677.8" fill="none" stroke="#0fb2e4" stroke-width="6.5"/>
<rect x="141.2" y="424.8" width="517.6" height="335.6" fill="none" stroke="#231f20" stroke-width="3.8"/>
<line x1="124.2" y1="746" x2="141.2" y2="746" stroke="#231f20" stroke-width="3.6" />
<text transform="translate(46.8,766.8) scale(1,1.03)" font-size="37.5" >10<tspan font-size="26.25" dy="-25.3" dx="1">0</tspan></text>
<line x1="124.2" y1="666.45" x2="141.2" y2="666.45" stroke="#231f20" stroke-width="3.6" />
<text transform="translate(46.8,687.25) scale(1,1.03)" font-size="37.5" >10<tspan font-size="26.25" dy="-25.3" dx="1">1</tspan></text>
<line x1="124.2" y1="586.9" x2="141.2" y2="586.9" stroke="#231f20" stroke-width="3.6" />
<text transform="translate(46.8,607.7) scale(1,1.03)" font-size="37.5" >10<tspan font-size="26.25" dy="-25.3" dx="1">2</tspan></text>
<line x1="124.2" y1="507.35" x2="141.2" y2="507.35" stroke="#231f20" stroke-width="3.6" />
<text transform="translate(46.8,528.15) scale(1,1.03)" font-size="37.5" >10<tspan font-size="26.25" dy="-25.3" dx="1">3</tspan></text>
<line x1="124.2" y1="427.8" x2="141.2" y2="427.8" stroke="#231f20" stroke-width="3.6" />
<text transform="translate(46.8,448.6) scale(1,1.03)" font-size="37.5" >10<tspan font-size="26.25" dy="-25.3" dx="1">4</tspan></text>
<line x1="198.5" y1="760.4" x2="198.5" y2="776.9" stroke="#231f20" stroke-width="3.6" />
<text transform="translate(198.5,818.5) scale(1,1.03)" font-size="37.5" text-anchor="middle" >-0.8</text>
<line x1="298.8" y1="760.4" x2="298.8" y2="776.9" stroke="#231f20" stroke-width="3.6" />
<text transform="translate(298.8,818.5) scale(1,1.03)" font-size="37.5" text-anchor="middle" >-0.4</text>
<line x1="399.1" y1="760.4" x2="399.1" y2="776.9" stroke="#231f20" stroke-width="3.6" />
<text transform="translate(399.1,818.5) scale(1,1.03)" font-size="37.5" text-anchor="middle" >0.0</text>
<line x1="499.4" y1="760.4" x2="499.4" y2="776.9" stroke="#231f20" stroke-width="3.6" />
<text transform="translate(499.4,818.5) scale(1,1.03)" font-size="37.5" text-anchor="middle" >0.4</text>
<line x1="599.7" y1="760.4" x2="599.7" y2="776.9" stroke="#231f20" stroke-width="3.6" />
<text transform="translate(599.7,818.5) scale(1,1.03)" font-size="37.5" text-anchor="middle" >0.8</text>
<text transform="translate(103.8,865.5) scale(1,1.03)" font-size="41.67" >Spin-up fraction difference, </text>
<text transform="translate(611.92,865.6) scale(1.0317,1)" font-size="44.48">&#916;</text>
<text transform="translate(643.25,865.6) scale(1.1819,1)" font-size="43.59" font-style="italic">f</text>
<text transform="translate(662.39,872.8) scale(0.9358,1)" font-size="29.78" font-family="'DejaVu Sans', sans-serif" stroke="#fff" stroke-width="0.5">&#8593;</text>
<text transform="translate(31.3,592.9) rotate(-90) scale(1,1.03)" font-size="41.67" text-anchor="middle" >Counts</text>
<text transform="translate(399,557.7) scale(1,1.03)" font-size="41.67" text-anchor="middle" >Quantum</text>
<text transform="translate(397.7,600.8) scale(1,1.03)" font-size="41.67" text-anchor="middle" >jumps</text>
<path d="M348.95,667.6 V642.2 H449.25 V667.6 M399.1,642.2 V626.7" fill="none" stroke="#231f20" stroke-width="3.5"/>
<text transform="translate(220.99,612.68) scale(1.0229,1)" font-size="41.60" font-family="'DejaVu Sans', sans-serif" font-weight="200" fill="#1461a6">|</text>
<text transform="translate(222.99,619.55) scale(1.1599,1)" font-size="50.27" font-family="'DejaVu Sans', sans-serif" fill="#1461a6" stroke="#fff" stroke-width="1.4">&#8659;</text>
<text transform="translate(260.02,616.34) scale(0.9595,1)" font-size="46.69" font-family="'DejaVu Sans', sans-serif" fill="#1461a6" stroke="#fff" stroke-width="1.5">&#10217;</text>
<text transform="translate(526.59,610.24) scale(1.0507,1)" font-size="40.50" font-family="'DejaVu Sans', sans-serif" font-weight="200" fill="#0fb2e4">|</text>
<text transform="translate(528.94,617.8) scale(1.1742,1)" font-size="49.86" font-family="'DejaVu Sans', sans-serif" fill="#0fb2e4" stroke="#fff" stroke-width="1.4">&#8657;</text>
<text transform="translate(566.02,613.8) scale(0.9855,1)" font-size="45.45" font-family="'DejaVu Sans', sans-serif" fill="#0fb2e4" stroke="#fff" stroke-width="1.5">&#10217;</text>
<text transform="translate(20.8,411.6)" font-size="41.67" fill="#231815" font-weight="bold" >b</text>
<circle cx="888.48" cy="439.4" r="6.35" fill="#231f20"/>
<circle cx="904.18" cy="515.7" r="6.35" fill="#231f20"/>
<circle cx="919.88" cy="548.5" r="6.35" fill="#231f20"/>
<circle cx="935.58" cy="567.7" r="6.35" fill="#231f20"/>
<circle cx="951.29" cy="583.1" r="6.35" fill="#231f20"/>
<circle cx="966.99" cy="596.9" r="6.35" fill="#231f20"/>
<circle cx="982.69" cy="604.7" r="6.35" fill="#231f20"/>
<circle cx="998.39" cy="607.1" r="6.35" fill="#231f20"/>
<circle cx="1014.09" cy="614.9" r="6.35" fill="#231f20"/>
<circle cx="1029.79" cy="625.1" r="6.35" fill="#231f20"/>
<circle cx="1045.49" cy="626.7" r="6.35" fill="#231f20"/>
<circle cx="1061.19" cy="636.3" r="6.35" fill="#231f20"/>
<circle cx="1076.9" cy="641" r="6.35" fill="#231f20"/>
<circle cx="1092.6" cy="645" r="6.35" fill="#231f20"/>
<circle cx="1108.3" cy="654.5" r="6.35" fill="#231f20"/>
<circle cx="1124" cy="660.5" r="6.35" fill="#231f20"/>
<circle cx="1139.7" cy="682.5" r="6.35" fill="#231f20"/>
<circle cx="1155.4" cy="681.9" r="6.35" fill="#231f20"/>
<circle cx="1171.1" cy="703.1" r="6.35" fill="#231f20"/>
<circle cx="1186.81" cy="702.4" r="6.35" fill="#231f20"/>
<circle cx="1202.51" cy="709.5" r="6.35" fill="#231f20"/>
<circle cx="1218.21" cy="708.8" r="6.35" fill="#231f20"/>
<circle cx="1233.91" cy="724.9" r="6.35" fill="#231f20"/>
<circle cx="1249.61" cy="723.7" r="6.35" fill="#231f20"/>
<circle cx="1265.31" cy="745" r="6.35" fill="#231f20"/>
<circle cx="966.99" cy="682.3" r="6.35" fill="#231f20"/>
<circle cx="982.69" cy="657.7" r="6.35" fill="#231f20"/>
<circle cx="998.39" cy="652.9" r="6.35" fill="#231f20"/>
<circle cx="1014.09" cy="637.8" r="6.35" fill="#231f20"/>
<circle cx="1029.79" cy="625.9" r="6.35" fill="#231f20"/>
<circle cx="1045.49" cy="624.3" r="6.35" fill="#231f20"/>
<circle cx="1061.19" cy="616.4" r="6.35" fill="#231f20"/>
<circle cx="1076.9" cy="614" r="6.35" fill="#231f20"/>
<circle cx="1092.6" cy="611.6" r="6.35" fill="#231f20"/>
<circle cx="1108.3" cy="606.1" r="6.35" fill="#231f20"/>
<circle cx="1124" cy="598.9" r="6.35" fill="#231f20"/>
<circle cx="1139.7" cy="596.6" r="6.35" fill="#231f20"/>
<circle cx="1155.4" cy="597.3" r="6.35" fill="#231f20"/>
<circle cx="1171.1" cy="592.8" r="6.35" fill="#231f20"/>
<circle cx="1186.81" cy="592.8" r="6.35" fill="#231f20"/>
<circle cx="1202.51" cy="591.7" r="6.35" fill="#231f20"/>
<circle cx="1218.21" cy="591.7" r="6.35" fill="#231f20"/>
<circle cx="1233.91" cy="589.7" r="6.35" fill="#231f20"/>
<circle cx="1249.61" cy="589.7" r="6.35" fill="#231f20"/>
<circle cx="1265.31" cy="587.7" r="6.35" fill="#231f20"/>
<circle cx="1281.01" cy="583.2" r="6.35" fill="#231f20"/>
<circle cx="1296.71" cy="575" r="6.35" fill="#231f20"/>
<circle cx="1312.42" cy="564.8" r="6.35" fill="#231f20"/>
<circle cx="1328.12" cy="546.8" r="6.35" fill="#231f20"/>
<circle cx="1343.82" cy="515.1" r="6.35" fill="#231f20"/>
<circle cx="1359.52" cy="481" r="6.35" fill="#231f20"/>
<path d="M967.0,765.6 967.0,682.3 982.7,657.7 998.4,652.9 1014.1,637.8 1029.8,625.9 1045.5,624.3 1061.2,616.4 1076.9,614.0 1092.6,611.6 1108.3,606.1 1124.0,598.9 1139.7,596.6 1155.4,597.3 1171.1,592.8 1186.8,592.8 1202.5,591.7 1218.2,591.7 1233.9,589.7 1249.6,589.7 1265.3,587.7 1281.0,583.2 1296.7,575.0 1312.4,564.8 1328.1,546.8 1343.8,515.1 1359.5,481.0" fill="none" stroke="#0fb2e4" stroke-width="6.5" stroke-linejoin="round"/>
<path d="M888.5,439.4 904.2,515.7 919.9,548.5 935.6,567.7 951.3,583.1 967.0,596.9 982.7,604.7 998.4,607.1 1014.1,614.9 1029.8,625.1 1045.5,626.7 1061.2,636.3 1076.9,641.0 1092.6,645.0 1108.3,654.5 1124.0,660.5 1139.7,682.5 1155.4,681.9 1171.1,703.1 1186.8,702.4 1202.5,709.5 1218.2,708.8 1233.9,724.9 1249.6,723.7 1265.3,745.0 1265.3,765.6" fill="none" stroke="#1461a6" stroke-width="6.5" stroke-linejoin="round"/>
<rect x="862.8" y="762.5" width="523.6" height="10" fill="#fff"/>
<rect x="865.8" y="425" width="517.6" height="335.6" fill="none" stroke="#231f20" stroke-width="3.8"/>
<line x1="848.8" y1="453.9" x2="865.8" y2="453.9" stroke="#231f20" stroke-width="3.6" />
<text transform="translate(758.8,474.6) scale(1,1.03)" font-size="37.5" >10<tspan font-size="26.25" dy="-25.3" dx="1.5">&#8722;2</tspan></text>
<line x1="857.3" y1="552.18" x2="865.8" y2="552.18" stroke="#231f20" stroke-width="2.7" />
<line x1="857.3" y1="527.42" x2="865.8" y2="527.42" stroke="#231f20" stroke-width="2.7" />
<line x1="857.3" y1="509.85" x2="865.8" y2="509.85" stroke="#231f20" stroke-width="2.7" />
<line x1="857.3" y1="496.22" x2="865.8" y2="496.22" stroke="#231f20" stroke-width="2.7" />
<line x1="857.3" y1="485.09" x2="865.8" y2="485.09" stroke="#231f20" stroke-width="2.7" />
<line x1="857.3" y1="475.68" x2="865.8" y2="475.68" stroke="#231f20" stroke-width="2.7" />
<line x1="857.3" y1="467.53" x2="865.8" y2="467.53" stroke="#231f20" stroke-width="2.7" />
<line x1="857.3" y1="460.33" x2="865.8" y2="460.33" stroke="#231f20" stroke-width="2.7" />
<line x1="848.8" y1="594.5" x2="865.8" y2="594.5" stroke="#231f20" stroke-width="3.6" />
<text transform="translate(758.8,615.2) scale(1,1.03)" font-size="37.5" >10<tspan font-size="26.25" dy="-25.3" dx="1.5">&#8722;3</tspan></text>
<line x1="857.3" y1="692.78" x2="865.8" y2="692.78" stroke="#231f20" stroke-width="2.7" />
<line x1="857.3" y1="668.02" x2="865.8" y2="668.02" stroke="#231f20" stroke-width="2.7" />
<line x1="857.3" y1="650.45" x2="865.8" y2="650.45" stroke="#231f20" stroke-width="2.7" />
<line x1="857.3" y1="636.82" x2="865.8" y2="636.82" stroke="#231f20" stroke-width="2.7" />
<line x1="857.3" y1="625.69" x2="865.8" y2="625.69" stroke="#231f20" stroke-width="2.7" />
<line x1="857.3" y1="616.28" x2="865.8" y2="616.28" stroke="#231f20" stroke-width="2.7" />
<line x1="857.3" y1="608.13" x2="865.8" y2="608.13" stroke="#231f20" stroke-width="2.7" />
<line x1="857.3" y1="600.93" x2="865.8" y2="600.93" stroke="#231f20" stroke-width="2.7" />
<line x1="848.8" y1="735.1" x2="865.8" y2="735.1" stroke="#231f20" stroke-width="3.6" />
<text transform="translate(758.8,755.8) scale(1,1.03)" font-size="37.5" >10<tspan font-size="26.25" dy="-25.3" dx="1.5">&#8722;4</tspan></text>
<line x1="857.3" y1="756.88" x2="865.8" y2="756.88" stroke="#231f20" stroke-width="2.7" />
<line x1="857.3" y1="748.73" x2="865.8" y2="748.73" stroke="#231f20" stroke-width="2.7" />
<line x1="857.3" y1="741.53" x2="865.8" y2="741.53" stroke="#231f20" stroke-width="2.7" />
<line x1="976.8" y1="760.6" x2="976.8" y2="777.1" stroke="#231f20" stroke-width="3.6" />
<text transform="translate(976.8,818.5) scale(1,1.03)" font-size="37.5" text-anchor="middle" >&#8722;0.25</text>
<line x1="1124" y1="760.6" x2="1124" y2="777.1" stroke="#231f20" stroke-width="3.6" />
<text transform="translate(1124,818.5) scale(1,1.03)" font-size="37.5" text-anchor="middle" >0.00</text>
<line x1="1271.2" y1="760.6" x2="1271.2" y2="777.1" stroke="#231f20" stroke-width="3.6" />
<text transform="translate(1271.2,818.5) scale(1,1.03)" font-size="37.5" text-anchor="middle" >0.25</text>
<text transform="translate(851,865.5) scale(1,1.03)" font-size="41.67" fill="#231815" >Discrimination threshold, </text>
<text transform="translate(1315.97,865.7) scale(1.0392,1)" font-size="42.73" fill="#231815">&#916;</text>
<text transform="translate(1345.94,865.6) scale(1.0399,1)" font-size="41.38" font-style="italic" fill="#231815">f</text>
<text transform="translate(1362.3,873) scale(1,1.03)" font-size="30.0" fill="#231815" >th</text>
<text transform="translate(742.9,591.75) rotate(-90) scale(1,1.03)" font-size="41.67" text-anchor="middle" >Error rate</text>
<text transform="translate(770.8,411.8)" font-size="41.67" fill="#231815" font-weight="bold" >c</text>
<circle cx="1615.63" cy="440.07" r="6.35" fill="#231f20"/>
<circle cx="1770.9" cy="649.36" r="6.35" fill="#231f20"/>
<circle cx="1926.88" cy="706.43" r="6.35" fill="#231f20"/>
<circle cx="2084.99" cy="725.46" r="6.35" fill="#231f20"/>
<circle cx="1613.15" cy="449.58" r="6.35" fill="#231f20"/>
<circle cx="1769.13" cy="620.82" r="6.35" fill="#231f20"/>
<circle cx="1926.88" cy="706.43" r="6.35" fill="#231f20"/>
<circle cx="2081.09" cy="744.49" r="6.35" fill="#231f20"/>
<path d="M1615.6,439.7 1620.3,450.5 1625.0,461.0 1629.7,471.0 1634.4,480.7 1639.1,490.0 1643.8,499.0 1648.5,507.6 1653.2,515.9 1657.9,523.9 1662.6,531.6 1667.3,539.0 1671.9,546.2 1676.6,553.0 1681.3,559.7 1686.0,566.0 1690.7,572.2 1695.4,578.1 1700.1,583.7 1704.8,589.2 1709.5,594.5 1714.2,599.6 1718.9,604.5 1723.6,609.2 1728.3,613.7 1733.0,618.0 1737.7,622.2 1742.4,626.3 1747.0,630.2 1751.7,633.9 1756.4,637.5 1761.1,641.0 1765.8,644.3 1770.5,647.6 1775.2,650.7 1779.9,653.6 1784.6,656.5 1789.3,659.3 1794.0,661.9 1798.7,664.5 1803.4,667.0 1808.1,669.3 1812.8,671.6 1817.5,673.8 1822.1,676.0 1826.8,678.0 1831.5,680.0 1836.2,681.9 1840.9,683.7 1845.6,685.4 1850.3,687.1 1855.0,688.7 1859.7,690.3 1864.4,691.8 1869.1,693.3 1873.8,694.7 1878.5,696.0 1883.2,697.3 1887.9,698.6 1892.5,699.8 1897.2,700.9 1901.9,702.0 1906.6,703.1 1911.3,704.1 1916.0,705.1 1920.7,706.1 1925.4,707.0 1930.1,707.9 1934.8,708.7 1939.5,709.6 1944.2,710.3 1948.9,711.1 1953.6,711.8 1958.3,712.5 1963.0,713.2 1967.6,713.9 1972.3,714.5 1977.0,715.1 1981.7,715.7 1986.4,716.3 1991.1,716.8 1995.8,717.3 2000.5,717.8 2005.2,718.3 2009.9,718.8 2014.6,719.2 2019.3,719.6 2024.0,720.1 2028.7,720.5 2033.4,720.8 2038.0,721.2 2042.7,721.6 2047.4,721.9 2052.1,722.2 2056.8,722.6 2061.5,722.9 2066.2,723.2 2070.9,723.4 2075.6,723.7 2080.3,724.0 2085.0,724.2" fill="none" stroke="#0fb2e4" stroke-width="6.5"/>
<path d="M1613.1,450.1 1617.8,457.3 1622.5,464.4 1627.2,471.3 1631.9,478.0 1636.5,484.6 1641.2,491.1 1645.9,497.4 1650.6,503.6 1655.3,509.7 1659.9,515.6 1664.6,521.4 1669.3,527.0 1674.0,532.6 1678.7,538.0 1683.3,543.3 1688.0,548.5 1692.7,553.6 1697.4,558.6 1702.1,563.4 1706.7,568.2 1711.4,572.8 1716.1,577.4 1720.8,581.8 1725.5,586.2 1730.1,590.5 1734.8,594.6 1739.5,598.7 1744.2,602.7 1748.8,606.6 1753.5,610.4 1758.2,614.2 1762.9,617.8 1767.6,621.4 1772.2,624.9 1776.9,628.3 1781.6,631.7 1786.3,634.9 1791.0,638.1 1795.6,641.3 1800.3,644.4 1805.0,647.4 1809.7,650.3 1814.4,653.2 1819.0,656.0 1823.7,658.7 1828.4,661.4 1833.1,664.0 1837.8,666.6 1842.4,669.1 1847.1,671.6 1851.8,674.0 1856.5,676.4 1861.2,678.7 1865.8,680.9 1870.5,683.1 1875.2,685.3 1879.9,687.4 1884.6,689.5 1889.2,691.5 1893.9,693.5 1898.6,695.4 1903.3,697.3 1907.9,699.1 1912.6,701.0 1917.3,702.7 1922.0,704.5 1926.7,706.2 1931.3,707.8 1936.0,709.4 1940.7,711.0 1945.4,712.6 1950.1,714.1 1954.7,715.6 1959.4,717.0 1964.1,718.5 1968.8,719.9 1973.5,721.2 1978.1,722.6 1982.8,723.9 1987.5,725.1 1992.2,726.4 1996.9,727.6 2001.5,728.8 2006.2,730.0 2010.9,731.1 2015.6,732.2 2020.3,733.3 2024.9,734.4 2029.6,735.4 2034.3,736.5 2039.0,737.5 2043.7,738.4 2048.3,739.4 2053.0,740.3 2057.7,741.3 2062.4,742.2 2067.0,743.0 2071.7,743.9 2076.4,744.7 2081.1,745.6" fill="none" stroke="#1461a6" stroke-width="6.5"/>
<rect x="1590.8" y="425" width="517.2" height="335.4" fill="none" stroke="#231f20" stroke-width="3.8"/>
<line x1="1573.3" y1="754" x2="1590.8" y2="754" stroke="#231f20" stroke-width="3.6" />
<text transform="translate(1558.1,767.4) scale(1,1.03)" font-size="37.5" text-anchor="end" >0</text>
<line x1="1573.3" y1="658.87" x2="1590.8" y2="658.87" stroke="#231f20" stroke-width="3.6" />
<text transform="translate(1558.1,672.27) scale(1,1.03)" font-size="37.5" text-anchor="end" >10</text>
<line x1="1573.3" y1="563.74" x2="1590.8" y2="563.74" stroke="#231f20" stroke-width="3.6" />
<text transform="translate(1558.1,577.14) scale(1,1.03)" font-size="37.5" text-anchor="end" >20</text>
<line x1="1573.3" y1="468.61" x2="1590.8" y2="468.61" stroke="#231f20" stroke-width="3.6" />
<text transform="translate(1558.1,482.01) scale(1,1.03)" font-size="37.5" text-anchor="end" >30</text>
<line x1="1613.5" y1="760.4" x2="1613.5" y2="776.9" stroke="#231f20" stroke-width="3.6" />
<text transform="translate(1613.5,818.5) scale(1,1.03)" font-size="37.5" text-anchor="middle" >0</text>
<line x1="1755.3" y1="760.4" x2="1755.3" y2="776.9" stroke="#231f20" stroke-width="3.6" />
<text transform="translate(1755.3,818.5) scale(1,1.03)" font-size="37.5" text-anchor="middle" >200</text>
<line x1="1897.1" y1="760.4" x2="1897.1" y2="776.9" stroke="#231f20" stroke-width="3.6" />
<text transform="translate(1897.1,818.5) scale(1,1.03)" font-size="37.5" text-anchor="middle" >400</text>
<line x1="2038.9" y1="760.4" x2="2038.9" y2="776.9" stroke="#231f20" stroke-width="3.6" />
<text transform="translate(2038.9,818.5) scale(1,1.03)" font-size="37.5" text-anchor="middle" >600</text>
<text transform="translate(1848.75,873.8) scale(1,1.03)" font-size="41.67" text-anchor="middle" >Time (s)</text>
<text transform="translate(1492.8,592) rotate(-90) scale(1,1.03)" font-size="41.67" text-anchor="middle" >Counts</text>
<line x1="1756.9" y1="475.6" x2="1830.2" y2="475.6" stroke="#0fb2e4" stroke-width="6.5" />
<line x1="1756.9" y1="525.6" x2="1830.2" y2="525.6" stroke="#1461a6" stroke-width="6.5" />
<text transform="translate(1852.14,486.5) scale(1.0209,1)" font-size="35.47" font-style="italic">T</text>
<text transform="translate(1868.35,494.11) scale(1.2360,1)" font-size="24.10" font-family="'DejaVu Sans', sans-serif" font-weight="200">|</text>
<text transform="translate(1870.66,498.7) scale(1.1638,1)" font-size="29.78" font-family="'DejaVu Sans', sans-serif" stroke="#fff" stroke-width="0.55">&#8657;</text>
<text transform="translate(1892.27,496.23) scale(0.9368,1)" font-size="27.05" font-family="'DejaVu Sans', sans-serif" stroke="#fff" stroke-width="0.6">&#10217;</text>
<text transform="translate(1903.1,486.5) scale(1,1.03)" font-size="33.4" >= 174.48 s</text>
<text transform="translate(1852.14,536.5) scale(1.0209,1)" font-size="35.47" font-style="italic">T</text>
<text transform="translate(1868.35,544.11) scale(1.2360,1)" font-size="24.10" font-family="'DejaVu Sans', sans-serif" font-weight="200">|</text>
<text transform="translate(1870.66,548.61) scale(1.1638,1)" font-size="29.78" font-family="'DejaVu Sans', sans-serif" stroke="#fff" stroke-width="0.55">&#8659;</text>
<text transform="translate(1892.27,546.23) scale(0.9368,1)" font-size="27.05" font-family="'DejaVu Sans', sans-serif" stroke="#fff" stroke-width="0.6">&#10217;</text>
<text transform="translate(1903.1,536.5) scale(1,1.03)" font-size="33.4" >= 300.85 s</text>
<text transform="translate(1520.8,411.8)" font-size="41.67" fill="#231815" font-weight="bold" >d</text>
</svg>
</body></html>
